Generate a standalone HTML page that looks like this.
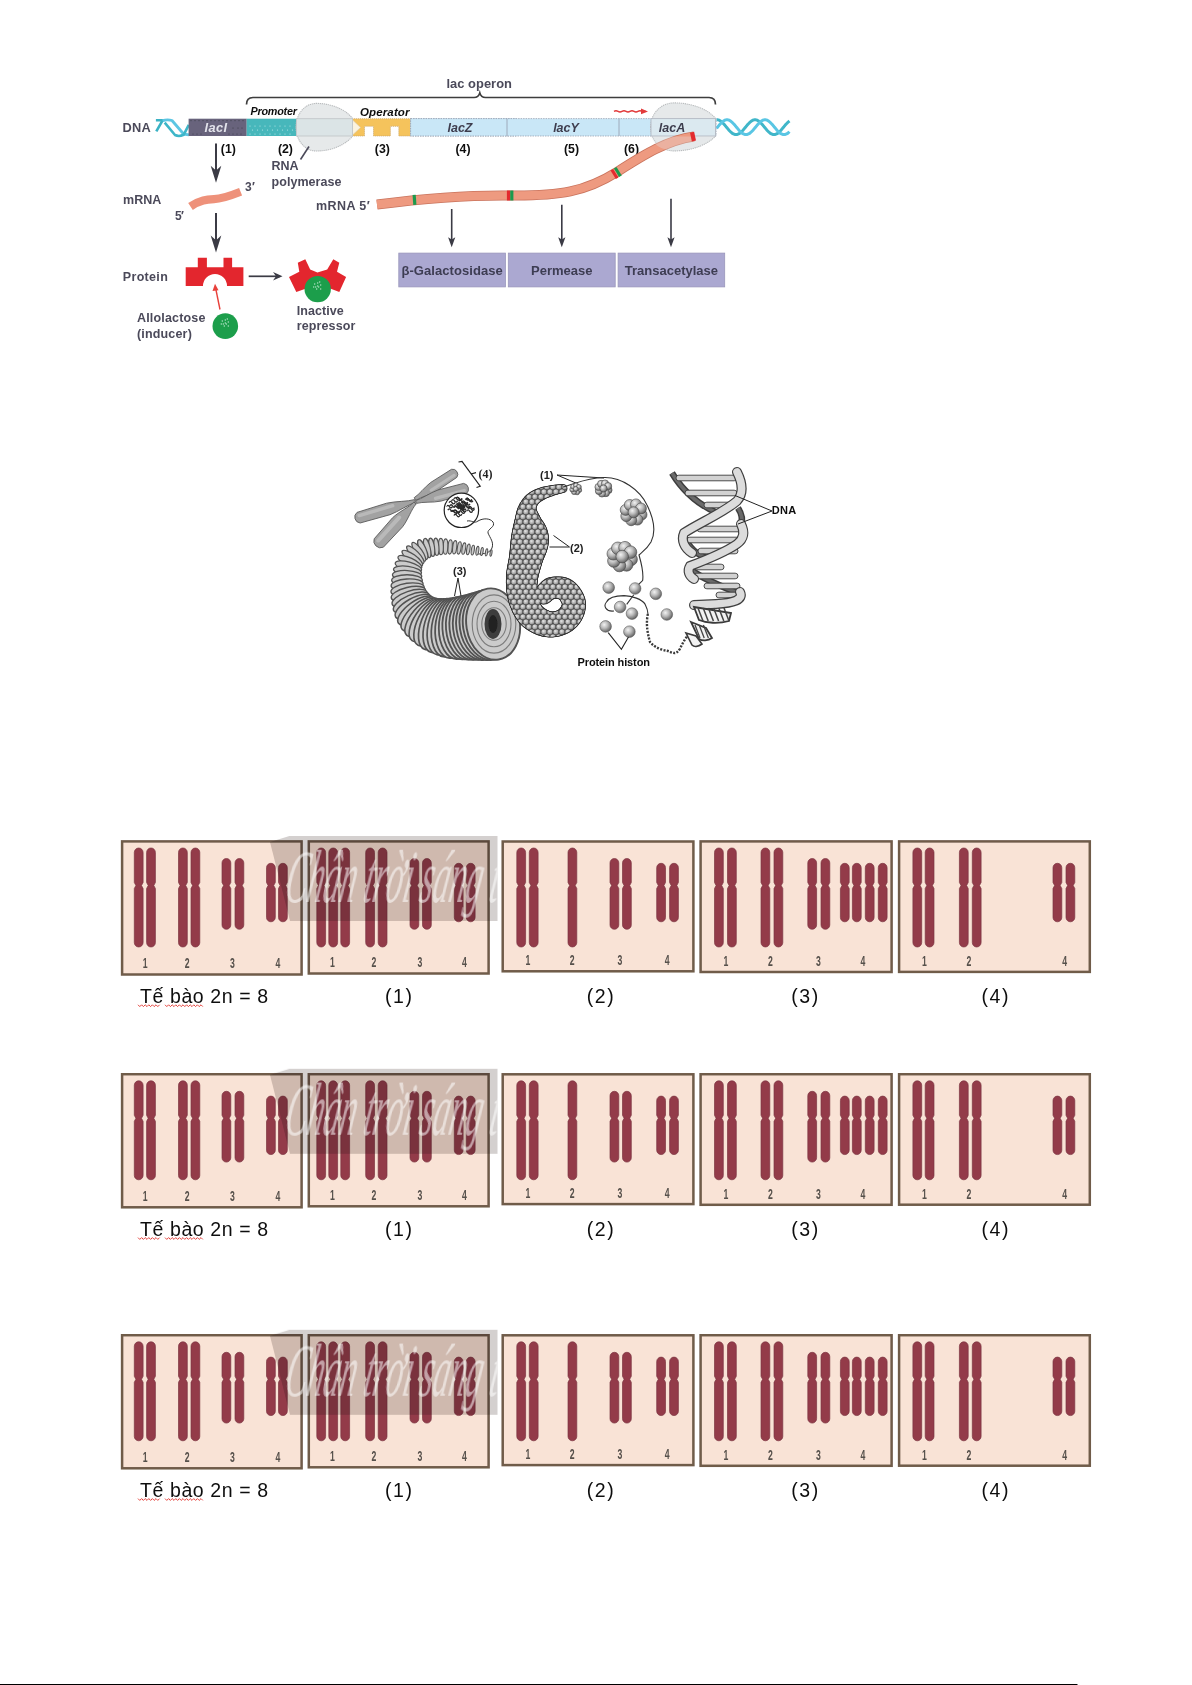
<!DOCTYPE html>
<html><head><meta charset="utf-8"><style>
html,body{margin:0;padding:0;background:#fff;}
body{width:1192px;height:1685px;overflow:hidden;position:relative;}
svg{position:absolute;left:0;top:0;font-family:"Liberation Sans",sans-serif;}
</style></head><body>
<svg width="1192" height="1685" viewBox="0 0 1192 1685">
<rect x="0" y="0" width="1192" height="1685" fill="#fff"/>
<defs><filter id="soft" x="-5%" y="-5%" width="110%" height="110%"><feGaussianBlur stdDeviation="0.45"/></filter><filter id="soft2" x="-2%" y="-10%" width="104%" height="120%"><feGaussianBlur stdDeviation="0.35"/></filter></defs>
<g filter="url(#soft)"><path d="M246.5,104.5 Q246.5,97.5 253,97.5 L474,97.5 Q478.5,97.5 479.8,93 Q481,97.5 485.5,97.5 L709,97.5 Q715.5,97.5 715.5,104.5" fill="none" stroke="#3c3c3c" stroke-width="1.7"/>
<text x="479.2" y="88.2" font-size="12.9" font-weight="bold" font-style="normal" fill="#4b4a5a" text-anchor="middle" textLength="65.5">lac operon</text>
<path d="M156.3,131.3 L162.6,120.3 L155.9,120.3" fill="none" stroke="#3ab2c4" stroke-width="2.6" stroke-linejoin="round"/>
<path d="M162.6,120.6 C166,119.5 169,119.5 172,120.5 L183.6,134 L189,134.8" fill="none" stroke="#5cc6e3" stroke-width="2.8" stroke-linejoin="round"/>
<path d="M164.7,122.7 L175,135 C178,136.5 181,136 183.6,134.8 L188.8,124.8" fill="none" stroke="#3eb6c8" stroke-width="2.6" stroke-linejoin="round"/>
<polyline points="716.5,119.8 717.0,119.8 717.5,119.8 718.0,119.9 718.5,120.0 719.0,120.2 719.5,120.4 720.0,120.7 720.5,121.0 721.0,121.4 721.5,121.8 722.0,122.2 722.5,122.7 723.0,123.2 723.5,123.7 724.0,124.2 724.5,124.8 725.0,125.4 725.5,126.0 726.0,126.6 726.5,127.2 727.0,127.8 727.5,128.4 728.0,129.0 728.5,129.6 729.0,130.2 729.5,130.7 730.0,131.2 730.5,131.7 731.0,132.2 731.5,132.6 732.0,133.0 732.5,133.4 733.0,133.7 733.5,134.0 734.0,134.2 734.5,134.4 735.0,134.5 735.5,134.6 736.0,134.6 736.5,134.6 737.0,134.5 737.5,134.4 738.0,134.2 738.5,134.0 739.0,133.7 739.5,133.4 740.0,133.0 740.5,132.6 741.0,132.2 741.5,131.7 742.0,131.2 742.5,130.7 743.0,130.2 743.5,129.6 744.0,129.0 744.5,128.4 745.0,127.8 745.5,127.2 746.0,126.6 746.5,126.0 747.0,125.4 747.5,124.8 748.0,124.2 748.5,123.7 749.0,123.2 749.5,122.7 750.0,122.2 750.5,121.8 751.0,121.4 751.5,121.0 752.0,120.7 752.5,120.4 753.0,120.2 753.5,120.0 754.0,119.9 754.5,119.8 755.0,119.8 755.5,119.8 756.0,119.9 756.5,120.0 757.0,120.2 757.5,120.4 758.0,120.7 758.5,121.0 759.0,121.4 759.5,121.8 760.0,122.2 760.5,122.7 761.0,123.2 761.5,123.7 762.0,124.2 762.5,124.8 763.0,125.4 763.5,126.0 764.0,126.6 764.5,127.2 765.0,127.8 765.5,128.4 766.0,129.0 766.5,129.6 767.0,130.2 767.5,130.7 768.0,131.2 768.5,131.7 769.0,132.2 769.5,132.6 770.0,133.0 770.5,133.4 771.0,133.7 771.5,134.0 772.0,134.2 772.5,134.4 773.0,134.5 773.5,134.6 774.0,134.6 774.5,134.6 775.0,134.5 775.5,134.4 776.0,134.2 776.5,134.0 777.0,133.7 777.5,133.4 778.0,133.0 778.5,132.6 779.0,132.2 779.5,131.7 780.0,131.2 780.5,130.7 781.0,130.2 781.5,129.6 782.0,129.0 782.5,128.4 783.0,127.8 783.5,127.2 784.0,126.6 784.5,126.0 785.0,125.4 785.5,124.8 786.0,124.2 786.5,123.7 787.0,123.2 787.5,122.7 788.0,122.2 788.5,121.8 789.0,121.4 789.5,121.0" fill="none" stroke="#3fb6c9" stroke-width="3.0"/>
<polyline points="716.5,128.4 717.0,127.8 717.5,127.2 718.0,126.6 718.5,126.0 719.0,125.4 719.5,124.8 720.0,124.2 720.5,123.7 721.0,123.2 721.5,122.7 722.0,122.2 722.5,121.8 723.0,121.4 723.5,121.0 724.0,120.7 724.5,120.4 725.0,120.2 725.5,120.0 726.0,119.9 726.5,119.8 727.0,119.8 727.5,119.8 728.0,119.9 728.5,120.0 729.0,120.2 729.5,120.4 730.0,120.7 730.5,121.0 731.0,121.4 731.5,121.8 732.0,122.2 732.5,122.7 733.0,123.2 733.5,123.7 734.0,124.2 734.5,124.8 735.0,125.4 735.5,126.0 736.0,126.6 736.5,127.2 737.0,127.8 737.5,128.4 738.0,129.0 738.5,129.6 739.0,130.2 739.5,130.7 740.0,131.2 740.5,131.7 741.0,132.2 741.5,132.6 742.0,133.0 742.5,133.4 743.0,133.7 743.5,134.0 744.0,134.2 744.5,134.4 745.0,134.5 745.5,134.6 746.0,134.6 746.5,134.6 747.0,134.5 747.5,134.4 748.0,134.2 748.5,134.0 749.0,133.7 749.5,133.4 750.0,133.0 750.5,132.6 751.0,132.2 751.5,131.7 752.0,131.2 752.5,130.7 753.0,130.2 753.5,129.6 754.0,129.0 754.5,128.4 755.0,127.8 755.5,127.2 756.0,126.6 756.5,126.0 757.0,125.4 757.5,124.8 758.0,124.2 758.5,123.7 759.0,123.2 759.5,122.7 760.0,122.2 760.5,121.8 761.0,121.4 761.5,121.0 762.0,120.7 762.5,120.4 763.0,120.2 763.5,120.0 764.0,119.9 764.5,119.8 765.0,119.8 765.5,119.8 766.0,119.9 766.5,120.0 767.0,120.2 767.5,120.4 768.0,120.7 768.5,121.0 769.0,121.4 769.5,121.8 770.0,122.2 770.5,122.7 771.0,123.2 771.5,123.7 772.0,124.2 772.5,124.8 773.0,125.4 773.5,126.0 774.0,126.6 774.5,127.2 775.0,127.8 775.5,128.4 776.0,129.0 776.5,129.6 777.0,130.2 777.5,130.7 778.0,131.2 778.5,131.7 779.0,132.2 779.5,132.6 780.0,133.0 780.5,133.4 781.0,133.7 781.5,134.0 782.0,134.2 782.5,134.4 783.0,134.5 783.5,134.6 784.0,134.6 784.5,134.6 785.0,134.5 785.5,134.4 786.0,134.2 786.5,134.0 787.0,133.7 787.5,133.4 788.0,133.0 788.5,132.6 789.0,132.2 789.5,131.7" fill="none" stroke="#5ac6e4" stroke-width="3.0"/>
<rect x="188.6" y="118.7" width="58.1" height="17.3" fill="#67647b"/>
<text x="215.8" y="131.5" font-size="12.8" font-weight="bold" font-style="italic" fill="#e4e4ec" text-anchor="middle" textLength="22.5">lacI</text>
<rect x="246.7" y="118.7" width="50" height="17.3" fill="#46b7bb"/>
<circle cx="191" cy="120.6" r="0.55" fill="#3c3a4c"/><circle cx="195" cy="120.6" r="0.55" fill="#3c3a4c"/><circle cx="199" cy="120.6" r="0.55" fill="#3c3a4c"/><circle cx="203" cy="120.6" r="0.55" fill="#3c3a4c"/><circle cx="207" cy="120.6" r="0.55" fill="#3c3a4c"/><circle cx="211" cy="120.6" r="0.55" fill="#3c3a4c"/><circle cx="215" cy="120.6" r="0.55" fill="#3c3a4c"/><circle cx="219" cy="120.6" r="0.55" fill="#3c3a4c"/><circle cx="223" cy="120.6" r="0.55" fill="#3c3a4c"/><circle cx="227" cy="120.6" r="0.55" fill="#3c3a4c"/><circle cx="231" cy="120.6" r="0.55" fill="#3c3a4c"/><circle cx="235" cy="120.6" r="0.55" fill="#3c3a4c"/><circle cx="239" cy="120.6" r="0.55" fill="#3c3a4c"/><circle cx="243" cy="120.6" r="0.55" fill="#3c3a4c"/><circle cx="193" cy="134" r="0.55" fill="#3c3a4c"/><circle cx="197" cy="134" r="0.55" fill="#3c3a4c"/><circle cx="201" cy="134" r="0.55" fill="#3c3a4c"/><circle cx="229" cy="134" r="0.55" fill="#3c3a4c"/><circle cx="233" cy="134" r="0.55" fill="#3c3a4c"/><circle cx="237" cy="134" r="0.55" fill="#3c3a4c"/><circle cx="241" cy="134" r="0.55" fill="#3c3a4c"/><circle cx="233" cy="128" r="0.6" fill="#3c3a4c"/><circle cx="238" cy="128" r="0.6" fill="#3c3a4c"/><circle cx="242" cy="128" r="0.6" fill="#3c3a4c"/><circle cx="250" cy="126" r="0.6" fill="#bfe6e8"/><circle cx="255" cy="126" r="0.6" fill="#bfe6e8"/><circle cx="260" cy="126" r="0.6" fill="#bfe6e8"/><circle cx="265" cy="126" r="0.6" fill="#bfe6e8"/><circle cx="270" cy="126" r="0.6" fill="#bfe6e8"/><circle cx="275" cy="126" r="0.6" fill="#bfe6e8"/><circle cx="280" cy="126" r="0.6" fill="#bfe6e8"/><circle cx="285" cy="126" r="0.6" fill="#bfe6e8"/><circle cx="290" cy="126" r="0.6" fill="#bfe6e8"/><circle cx="252.5" cy="130" r="0.6" fill="#bfe6e8"/><circle cx="257.5" cy="130" r="0.6" fill="#bfe6e8"/><circle cx="262.5" cy="130" r="0.6" fill="#bfe6e8"/><circle cx="267.5" cy="130" r="0.6" fill="#bfe6e8"/><circle cx="272.5" cy="130" r="0.6" fill="#bfe6e8"/><circle cx="277.5" cy="130" r="0.6" fill="#bfe6e8"/><circle cx="282.5" cy="130" r="0.6" fill="#bfe6e8"/><circle cx="287.5" cy="130" r="0.6" fill="#bfe6e8"/><circle cx="292.5" cy="130" r="0.6" fill="#bfe6e8"/><circle cx="250" cy="134" r="0.6" fill="#bfe6e8"/><circle cx="255" cy="134" r="0.6" fill="#bfe6e8"/><circle cx="260" cy="134" r="0.6" fill="#bfe6e8"/><circle cx="265" cy="134" r="0.6" fill="#bfe6e8"/><circle cx="270" cy="134" r="0.6" fill="#bfe6e8"/><circle cx="275" cy="134" r="0.6" fill="#bfe6e8"/><circle cx="280" cy="134" r="0.6" fill="#bfe6e8"/><circle cx="285" cy="134" r="0.6" fill="#bfe6e8"/><circle cx="290" cy="134" r="0.6" fill="#bfe6e8"/>
<path d="M352,118.7 H410.6 V136 H398.8 V126.3 H390.4 V136 H373.5 V126.3 H364.5 V136 H352 Z" fill="#f5c35c" stroke="#c6a46a" stroke-width="0.7" stroke-dasharray="1.2,0.8"/>
<path d="M352.5,120 L360.5,127.5 L352.5,135 Z" fill="#fbf3df" stroke="#d8cfb8" stroke-width="0.6"/>
<rect x="410.6" y="118.6" width="105.5" height="17.4" fill="#c9e7f7" stroke="#9aa3b3" stroke-width="0.8" stroke-dasharray="1.5,1"/>
<rect x="410.6" y="118.6" width="305.5" height="17.4" fill="#c9e7f7" stroke="#9aa3b3" stroke-width="0.8" stroke-dasharray="1.5,1"/>
<line x1="507" y1="118.6" x2="507" y2="136" stroke="#9aa3b3" stroke-width="0.9"/>
<line x1="619" y1="118.6" x2="619" y2="136" stroke="#9aa3b3" stroke-width="0.9"/>
<path d="M296,127.2 C296,113.9 304.9,103.4 316.3,103.4 C335.0,103.4 348.0,112.0 352.5,118.5 L352.5,136 C348.0,142.4 335.0,151 316.3,151 C304.9,151 296,140.5 296,127.2 Z" fill="#e6e9ea" stroke="#b9bcbe" stroke-width="1.1" stroke-dasharray="1.3,0.7"/>
<rect x="296.5" y="118.7" width="56" height="17.3" fill="#dbe4e6" stroke="#c3c7c9" stroke-width="0.9"/>
<text x="460" y="132" font-size="12.5" font-weight="bold" font-style="italic" fill="#3e3d4e" text-anchor="middle" >lacZ</text>
<text x="566" y="132" font-size="12.5" font-weight="bold" font-style="italic" fill="#3e3d4e" text-anchor="middle" >lacY</text>
<path d="M650.6,127.2 C650.6,113.6 660.9,102.9 674.0,102.9 C695.4,102.9 710.3,111.5 715.5,118.5 L715.5,136 C710.3,142.3 695.4,150.9 674.0,150.9 C660.9,150.9 650.6,140.5 650.6,127.2 Z" fill="#e6e9ea" stroke="#b9bcbe" stroke-width="1.1" stroke-dasharray="1.3,0.7"/>
<rect x="651" y="118.6" width="64.5" height="17.4" fill="#dbe9f0" stroke="#b3b9c3" stroke-width="0.9"/>
<text x="672" y="132" font-size="12.5" font-weight="bold" font-style="italic" fill="#3e3d4e" text-anchor="middle" >lacA</text>
<path d="M614,111.4 q2,-1.2 4,0 t4,0 t4,0 t4,0 t4,0 t4,0 t4,0 L646,111.4" fill="none" stroke="#e23b3b" stroke-width="1.4"/>
<path d="M641,108.5 L648,111.4 L641,114.3 Z" fill="#e23b3b"/>
<text x="250.5" y="115.2" font-size="10.8" font-weight="bold" font-style="italic" fill="#111" text-anchor="start" textLength="46.5">Promoter</text>
<text x="360" y="116" font-size="11.5" font-weight="bold" font-style="italic" fill="#111" text-anchor="start" textLength="49.5">Operator</text>
<text x="228.3" y="153.3" font-size="12.3" font-weight="bold" font-style="normal" fill="#111" text-anchor="middle" >(1)</text>
<text x="285.4" y="153.3" font-size="12.3" font-weight="bold" font-style="normal" fill="#111" text-anchor="middle" >(2)</text>
<text x="382.3" y="153.3" font-size="12.3" font-weight="bold" font-style="normal" fill="#111" text-anchor="middle" >(3)</text>
<text x="463" y="153.3" font-size="12.3" font-weight="bold" font-style="normal" fill="#111" text-anchor="middle" >(4)</text>
<text x="571.5" y="153.3" font-size="12.3" font-weight="bold" font-style="normal" fill="#111" text-anchor="middle" >(5)</text>
<text x="631.5" y="153.3" font-size="12.3" font-weight="bold" font-style="normal" fill="#111" text-anchor="middle" >(6)</text>
<text x="122.6" y="131.8" font-size="12.8" font-weight="bold" font-style="normal" fill="#4b4a5a" text-anchor="start" textLength="28.2">DNA</text>
<line x1="216" y1="143.6" x2="216" y2="172.60000000000002" stroke="#3a3a44" stroke-width="2.0"/>
<path d="M210.7,165.8 L216,182.8 L221.3,165.8 L216,170.56 Z" fill="#3a3a44"/>
<line x1="216" y1="213" x2="216" y2="242.4" stroke="#3a3a44" stroke-width="2.0"/>
<path d="M210.7,235.6 L216,252.6 L221.3,235.6 L216,240.35999999999999 Z" fill="#3a3a44"/>
<line x1="300.5" y1="159.5" x2="309" y2="146.5" stroke="#4b4a5a" stroke-width="1.6"/>
<text x="271.5" y="169.6" font-size="12.5" font-weight="bold" font-style="normal" fill="#4b4a5a" text-anchor="start" >RNA</text>
<text x="271.5" y="185.5" font-size="12.5" font-weight="bold" font-style="normal" fill="#4b4a5a" text-anchor="start" textLength="70">polymerase</text>
<path d="M190.5,206.5 C200,200 207,199.5 214,199.2 C222,199 230,196 240.6,191.8" fill="none" stroke="#ee917a" stroke-width="8.2" stroke-linecap="butt"/>
<text x="245" y="191" font-size="12" font-weight="bold" font-style="normal" fill="#4b4a5a" text-anchor="start" textLength="10">3′</text>
<text x="175" y="219.5" font-size="12" font-weight="bold" font-style="normal" fill="#4b4a5a" text-anchor="start" textLength="9">5′</text>
<text x="123" y="204" font-size="12.5" font-weight="bold" font-style="normal" fill="#4b4a5a" text-anchor="start" textLength="38.4">mRNA</text>
<path d="M185.7,267.2 H197.8 V257.8 H206.9 V267.2 H223.5 V257.8 H232.1 V267.2 H243.4 V286 H227 A12,12 0 0 0 203,286 H185.7 Z" fill="#e3272d"/>
<text x="122.8" y="281" font-size="12.5" font-weight="bold" font-style="normal" fill="#4b4a5a" text-anchor="start" textLength="45">Protein</text>
<line x1="248.7" y1="276.3" x2="280" y2="276.3" stroke="#3a3a44" stroke-width="1.7"/>
<path d="M273,272 L282.5,276.3 L273,280.6 L276,276.3 Z" fill="#3a3a44"/>
<path d="M289,277 L299.3,271.7 L297.8,262.7 L305.3,259.3 L310.2,269.4 L317.4,272.5 L327.2,269.4 L333.3,259.3 L339.3,262.7 L337,271.7 L346.1,277 L339.3,292.1 L329.5,288.3 L306.9,288.3 L296.3,292.1 Z" fill="#e3272d"/>
<circle cx="317.7" cy="289.1" r="13.2" fill="#1c9e4c"/>
<text x="296.7" y="315" font-size="12.5" font-weight="bold" font-style="normal" fill="#4b4a5a" text-anchor="start" textLength="47">Inactive</text>
<text x="296.7" y="330" font-size="12.5" font-weight="bold" font-style="normal" fill="#4b4a5a" text-anchor="start" textLength="58.7">repressor</text>
<line x1="220" y1="309.5" x2="215.8" y2="289" stroke="#e8403a" stroke-width="1.4"/>
<path d="M212.5,291 L215,283.8 L218.5,290.2 Z" fill="#e8403a"/>
<circle cx="225.3" cy="326.1" r="12.8" fill="#1c9e4c"/>
<circle cx="222.3" cy="321" r="0.7" fill="#b9e3c8"/>
<circle cx="225.3" cy="320" r="0.7" fill="#b9e3c8"/>
<circle cx="228.3" cy="322" r="0.7" fill="#b9e3c8"/>
<circle cx="223.3" cy="324" r="0.7" fill="#b9e3c8"/>
<circle cx="226.3" cy="324" r="0.7" fill="#b9e3c8"/>
<circle cx="228.3" cy="326" r="0.7" fill="#b9e3c8"/>
<circle cx="224.3" cy="326" r="0.7" fill="#b9e3c8"/>
<circle cx="225.3" cy="323" r="0.7" fill="#b9e3c8"/>
<circle cx="227.3" cy="319" r="0.7" fill="#b9e3c8"/>
<circle cx="221.3" cy="324" r="0.7" fill="#b9e3c8"/>
<circle cx="314.7" cy="284" r="0.7" fill="#b9e3c8"/>
<circle cx="317.7" cy="283" r="0.7" fill="#b9e3c8"/>
<circle cx="320.7" cy="285" r="0.7" fill="#b9e3c8"/>
<circle cx="315.7" cy="287" r="0.7" fill="#b9e3c8"/>
<circle cx="318.7" cy="287" r="0.7" fill="#b9e3c8"/>
<circle cx="320.7" cy="289" r="0.7" fill="#b9e3c8"/>
<circle cx="316.7" cy="289" r="0.7" fill="#b9e3c8"/>
<circle cx="317.7" cy="286" r="0.7" fill="#b9e3c8"/>
<circle cx="319.7" cy="282" r="0.7" fill="#b9e3c8"/>
<circle cx="313.7" cy="287" r="0.7" fill="#b9e3c8"/>
<text x="137" y="322" font-size="12.5" font-weight="bold" font-style="normal" fill="#4b4a5a" text-anchor="start" textLength="68.4">Allolactose</text>
<text x="137" y="337.5" font-size="12.5" font-weight="bold" font-style="normal" fill="#4b4a5a" text-anchor="start" textLength="54.8">(inducer)</text>
<text x="316" y="209.5" font-size="12.5" font-weight="bold" font-style="normal" fill="#4b4a5a" text-anchor="start" textLength="53.7">mRNA 5′</text>
<path d="M377,204.5 C420,199 470,195 510,195.5 C560,196 585,192 617,172 C645,154 668,140 694,136.5" fill="none" stroke="#c9735c" stroke-width="10" />
<path d="M377,204.5 C420,199 470,195 510,195.5 C560,196 585,192 617,172 C645,154 668,140 694,136.5" fill="none" stroke="#ee9a80" stroke-width="8.4" />
<rect x="412.9" y="194.8" width="3.2" height="10" fill="#1e9a4e" transform="rotate(-4 414.5 199.8)"/>
<rect x="506.9" y="190.5" width="3.2" height="10" fill="#e32b2f" transform="rotate(0 508.5 195.5)"/>
<rect x="510.2" y="190.5" width="3.2" height="10" fill="#1e9a4e" transform="rotate(0 511.8 195.5)"/>
<rect x="612.9" y="169.0" width="3.2" height="10" fill="#e32b2f" transform="rotate(-32 614.5 174)"/>
<rect x="616.1999999999999" y="167.0" width="3.2" height="10" fill="#1e9a4e" transform="rotate(-32 617.8 172)"/>
<path d="M651,136.5 C653,144 661,150.5 673,150.5 C690,150.5 700,143 715,136.5 Z" fill="#e6e9ea" fill-opacity="0.3"/>
<rect x="690.9" y="132.1" width="4.2" height="9" fill="#e32b2f" transform="rotate(-12 693 136.6)"/>
<line x1="451.7" y1="209" x2="451.7" y2="241.3" stroke="#3a3a44" stroke-width="1.6"/>
<path d="M448.09999999999997,237.3 L451.7,247.3 L455.3,237.3 L451.7,239.5 Z" fill="#3a3a44"/>
<line x1="561.8" y1="204.7" x2="561.8" y2="241.3" stroke="#3a3a44" stroke-width="1.6"/>
<path d="M558.1999999999999,237.3 L561.8,247.3 L565.4,237.3 L561.8,239.5 Z" fill="#3a3a44"/>
<line x1="671" y1="198.8" x2="671" y2="241.3" stroke="#3a3a44" stroke-width="1.6"/>
<path d="M667.4,237.3 L671,247.3 L674.6,237.3 L671,239.5 Z" fill="#3a3a44"/>
<rect x="398.8" y="253.1" width="106.6" height="33.8" fill="#aba8d1" stroke="#9996bb" stroke-width="0.8"/>
<text x="452.1" y="275.2" font-size="13" font-weight="bold" font-style="normal" fill="#3d3c52" text-anchor="middle" textLength="101.3">β-Galactosidase</text>
<rect x="508.3" y="253.1" width="106.9" height="33.8" fill="#aba8d1" stroke="#9996bb" stroke-width="0.8"/>
<text x="561.75" y="275.2" font-size="13" font-weight="bold" font-style="normal" fill="#3d3c52" text-anchor="middle" textLength="61.6">Permease</text>
<rect x="618.1" y="253.1" width="106.6" height="33.8" fill="#aba8d1" stroke="#9996bb" stroke-width="0.8"/>
<text x="671.4000000000001" y="275.2" font-size="13" font-weight="bold" font-style="normal" fill="#3d3c52" text-anchor="middle" textLength="93.3">Transacetylase</text></g>
<g filter="url(#soft)"><defs>
<radialGradient id="ball" cx="0.38" cy="0.35" r="0.7">
  <stop offset="0" stop-color="#f2f2f2"/><stop offset="0.45" stop-color="#b9b9b9"/><stop offset="1" stop-color="#5a5a5a"/>
</radialGradient>
<radialGradient id="bead" cx="0.4" cy="0.35" r="0.75">
  <stop offset="0" stop-color="#e6e6e6"/><stop offset="0.55" stop-color="#a9a9a9"/><stop offset="1" stop-color="#454545"/>
</radialGradient>
<linearGradient id="armg" x1="0" y1="0" x2="0" y2="1">
  <stop offset="0" stop-color="#c9c9c9"/><stop offset="0.5" stop-color="#9c9c9c"/><stop offset="1" stop-color="#6e6e6e"/>
</linearGradient>
<pattern id="beads" x="0" y="0" width="6.4" height="6" patternUnits="userSpaceOnUse">
  <rect width="6.4" height="6" fill="#6a6a6a"/>
  <circle cx="3.2" cy="3" r="2.9" fill="url(#bead)"/>
</pattern>
<clipPath id="magclip"><circle cx="461.4" cy="510.3" r="15.5"/></clipPath><clipPath id="fibclip"><circle cx="563.0" cy="488.5" r="3.5"/><circle cx="561.5" cy="488.7" r="3.6"/><circle cx="560.0" cy="489.0" r="3.8"/><circle cx="558.6" cy="489.2" r="3.9"/><circle cx="557.1" cy="489.5" r="4.0"/><circle cx="555.6" cy="489.7" r="4.2"/><circle cx="554.1" cy="490.0" r="4.3"/><circle cx="552.7" cy="490.3" r="4.4"/><circle cx="551.2" cy="490.7" r="4.6"/><circle cx="549.8" cy="491.1" r="4.7"/><circle cx="548.3" cy="491.5" r="4.8"/><circle cx="546.9" cy="491.9" r="5.0"/><circle cx="545.4" cy="492.3" r="5.1"/><circle cx="544.0" cy="492.8" r="5.2"/><circle cx="542.6" cy="493.3" r="5.3"/><circle cx="541.2" cy="493.9" r="5.5"/><circle cx="539.9" cy="494.5" r="5.6"/><circle cx="538.5" cy="495.2" r="5.7"/><circle cx="537.2" cy="495.9" r="5.8"/><circle cx="535.9" cy="496.7" r="6.0"/><circle cx="534.7" cy="497.6" r="6.1"/><circle cx="533.5" cy="498.5" r="6.2"/><circle cx="532.4" cy="499.5" r="6.4"/><circle cx="531.4" cy="500.7" r="6.6"/><circle cx="530.5" cy="501.8" r="6.8"/><circle cx="529.7" cy="503.1" r="7.0"/><circle cx="528.9" cy="504.4" r="7.3"/><circle cx="528.3" cy="505.7" r="7.5"/><circle cx="527.7" cy="507.1" r="7.8"/><circle cx="527.3" cy="508.6" r="8.1"/><circle cx="527.0" cy="510.0" r="8.5"/><circle cx="526.8" cy="511.5" r="8.9"/><circle cx="526.8" cy="513.0" r="9.4"/><circle cx="526.9" cy="514.5" r="9.9"/><circle cx="527.0" cy="516.0" r="10.3"/><circle cx="527.2" cy="517.5" r="10.8"/><circle cx="527.4" cy="519.0" r="11.3"/><circle cx="527.6" cy="520.5" r="11.8"/><circle cx="527.8" cy="522.0" r="12.3"/><circle cx="527.9" cy="523.5" r="12.8"/><circle cx="528.1" cy="524.9" r="13.3"/><circle cx="528.4" cy="526.4" r="13.9"/><circle cx="528.6" cy="527.9" r="14.5"/><circle cx="528.9" cy="529.4" r="15.1"/><circle cx="529.2" cy="530.8" r="15.8"/><circle cx="529.5" cy="532.3" r="16.3"/><circle cx="529.8" cy="533.8" r="16.9"/><circle cx="529.9" cy="535.3" r="17.3"/><circle cx="530.0" cy="536.8" r="17.7"/><circle cx="530.0" cy="538.3" r="17.9"/><circle cx="529.9" cy="539.8" r="18.0"/><circle cx="529.8" cy="541.3" r="18.1"/><circle cx="529.5" cy="542.8" r="18.0"/><circle cx="529.3" cy="544.2" r="17.9"/><circle cx="529.0" cy="545.7" r="17.7"/><circle cx="528.6" cy="547.2" r="17.5"/><circle cx="528.3" cy="548.6" r="17.3"/><circle cx="527.9" cy="550.1" r="17.1"/><circle cx="527.5" cy="551.5" r="16.8"/><circle cx="527.2" cy="553.0" r="16.6"/><circle cx="526.8" cy="554.4" r="16.4"/><circle cx="526.5" cy="555.9" r="16.2"/><circle cx="526.1" cy="557.4" r="16.1"/><circle cx="525.8" cy="558.8" r="15.9"/><circle cx="525.5" cy="560.3" r="15.8"/><circle cx="525.2" cy="561.7" r="15.7"/><circle cx="524.8" cy="563.2" r="15.7"/><circle cx="524.5" cy="564.7" r="15.6"/><circle cx="524.1" cy="566.1" r="15.5"/><circle cx="523.8" cy="567.6" r="15.5"/><circle cx="523.4" cy="569.0" r="15.4"/><circle cx="523.1" cy="570.5" r="15.3"/><circle cx="522.8" cy="572.0" r="15.3"/><circle cx="522.6" cy="573.5" r="15.2"/><circle cx="522.3" cy="574.9" r="15.1"/><circle cx="522.1" cy="576.4" r="15.1"/><circle cx="522.0" cy="577.9" r="15.0"/><circle cx="521.9" cy="579.4" r="14.9"/><circle cx="521.8" cy="580.9" r="14.9"/><circle cx="521.7" cy="582.4" r="14.8"/><circle cx="521.7" cy="583.9" r="14.7"/><circle cx="521.7" cy="585.4" r="14.6"/><circle cx="521.7" cy="586.9" r="14.6"/><circle cx="521.7" cy="588.4" r="14.5"/><circle cx="521.8" cy="589.9" r="14.4"/><circle cx="521.9" cy="591.4" r="14.3"/><circle cx="522.0" cy="592.9" r="14.3"/><circle cx="522.3" cy="594.4" r="14.2"/><circle cx="522.5" cy="595.9" r="14.1"/><circle cx="522.8" cy="597.3" r="14.0"/><circle cx="523.2" cy="598.8" r="14.0"/><circle cx="523.6" cy="600.2" r="13.9"/><circle cx="524.1" cy="601.7" r="13.8"/><circle cx="524.6" cy="603.1" r="13.7"/><circle cx="525.1" cy="604.5" r="13.7"/><circle cx="525.6" cy="605.9" r="13.6"/><circle cx="526.2" cy="607.2" r="13.5"/><circle cx="526.9" cy="608.6" r="13.5"/><circle cx="527.6" cy="609.9" r="13.4"/><circle cx="528.3" cy="611.2" r="13.3"/><circle cx="529.1" cy="612.5" r="13.2"/><circle cx="530.0" cy="613.7" r="13.2"/><circle cx="530.9" cy="614.9" r="13.1"/><circle cx="532.0" cy="616.0" r="13.0"/><circle cx="533.1" cy="617.0" r="12.9"/><circle cx="534.2" cy="617.9" r="12.8"/><circle cx="535.5" cy="618.8" r="12.8"/><circle cx="536.7" cy="619.6" r="12.7"/><circle cx="538.0" cy="620.4" r="12.6"/><circle cx="539.3" cy="621.1" r="12.5"/><circle cx="540.7" cy="621.8" r="12.5"/><circle cx="542.0" cy="622.4" r="12.4"/><circle cx="543.4" cy="622.9" r="12.3"/><circle cx="544.8" cy="623.4" r="12.2"/><circle cx="546.3" cy="623.8" r="12.2"/><circle cx="547.8" cy="624.2" r="12.1"/><circle cx="549.2" cy="624.4" r="12.0"/><circle cx="550.7" cy="624.5" r="12.0"/><circle cx="552.2" cy="624.5" r="11.9"/><circle cx="553.7" cy="624.4" r="11.9"/><circle cx="555.2" cy="624.2" r="11.8"/><circle cx="556.7" cy="623.9" r="11.8"/><circle cx="558.1" cy="623.5" r="11.7"/><circle cx="559.6" cy="623.1" r="11.7"/><circle cx="561.0" cy="622.6" r="11.7"/><circle cx="562.3" cy="621.9" r="11.6"/><circle cx="563.7" cy="621.3" r="11.6"/><circle cx="564.9" cy="620.5" r="11.6"/><circle cx="566.2" cy="619.6" r="11.5"/><circle cx="567.3" cy="618.7" r="11.5"/><circle cx="568.4" cy="617.6" r="11.4"/><circle cx="569.4" cy="616.5" r="11.4"/><circle cx="570.2" cy="615.3" r="11.4"/><circle cx="571.0" cy="614.0" r="11.3"/><circle cx="571.7" cy="612.7" r="11.3"/><circle cx="572.4" cy="611.3" r="11.2"/><circle cx="572.9" cy="609.9" r="11.2"/><circle cx="573.4" cy="608.5" r="11.1"/><circle cx="573.7" cy="607.0" r="11.1"/><circle cx="573.9" cy="605.5" r="11.1"/><circle cx="574.0" cy="604.0" r="11.0"/><circle cx="573.8" cy="602.6" r="11.0"/><circle cx="573.5" cy="601.1" r="10.9"/><circle cx="573.0" cy="599.7" r="10.9"/><circle cx="572.4" cy="598.3" r="10.8"/><circle cx="571.7" cy="597.0" r="10.8"/><circle cx="571.0" cy="595.7" r="10.7"/><circle cx="570.2" cy="594.4" r="10.7"/><circle cx="569.3" cy="593.2" r="10.6"/><circle cx="568.3" cy="592.1" r="10.6"/><circle cx="567.2" cy="591.0" r="10.6"/><circle cx="566.1" cy="590.1" r="10.5"/><circle cx="564.8" cy="589.3" r="10.5"/><circle cx="563.4" cy="588.7" r="10.4"/><circle cx="562.0" cy="588.2" r="10.4"/><circle cx="560.5" cy="587.9" r="10.3"/><circle cx="559.0" cy="587.7" r="10.3"/><circle cx="557.5" cy="587.6" r="10.2"/><circle cx="556.0" cy="587.6" r="10.2"/><circle cx="554.6" cy="587.6" r="10.1"/><circle cx="553.1" cy="587.8" r="10.1"/><circle cx="551.6" cy="588.1" r="10.0"/><circle cx="550.2" cy="588.7" r="9.9"/><circle cx="548.9" cy="589.5" r="9.7"/><circle cx="547.7" cy="590.4" r="9.6"/><circle cx="546.6" cy="591.4" r="9.5"/><circle cx="545.6" cy="592.4" r="9.3"/><circle cx="544.5" cy="593.5" r="9.2"/><circle cx="543.5" cy="594.6" r="9.1"/></clipPath></defs>
<path d="M415.8,500.3 C421.0,496.8 429.8,495.0 436.6,491.1 L456.8,477.4 A5.2,5.2 0 0 0 451.5,469.3 L430.8,482.4 C424.6,487.1 419.4,494.3 414.2,497.7 Z" fill="#a2a2a2" stroke="#5a5a5a" stroke-width="0.9"/>
<line x1="431.1" y1="490.3" x2="454.1" y2="475.3" stroke="#c4c4c4" stroke-width="2.9" stroke-linecap="round" opacity="0.7"/>
<path d="M416.4,503.4 C422.9,501.6 432.6,502.8 441.0,501.1 L466.4,493.6 A5.8,5.8 0 0 0 463.6,483.4 L437.9,490.0 C429.9,492.8 422.1,498.8 415.6,500.6 Z" fill="#a2a2a2" stroke="#5a5a5a" stroke-width="0.9"/>
<line x1="435.5" y1="498.4" x2="464.3" y2="490.5" stroke="#c4c4c4" stroke-width="3.2" stroke-linecap="round" opacity="0.7"/>
<path d="M414.6,499.6 C407.1,501.8 396.1,501.0 386.6,503.2 L357.0,512.4 A6.0,6.0 0 0 0 360.1,523.0 L390.0,514.7 C399.1,511.3 408.0,504.6 415.4,502.4 Z" fill="#a2a2a2" stroke="#5a5a5a" stroke-width="0.9"/>
<line x1="392.7" y1="505.7" x2="359.2" y2="515.6" stroke="#c4c4c4" stroke-width="3.4" stroke-linecap="round" opacity="0.7"/>
<path d="M413.9,502.0 C409.0,507.4 399.1,511.5 392.5,517.8 L374.2,538.8 A6.8,6.8 0 0 0 383.4,547.2 L402.5,526.9 C408.1,519.7 411.2,509.4 416.1,504.0 Z" fill="#a2a2a2" stroke="#5a5a5a" stroke-width="0.9"/>
<line x1="399.3" y1="517.4" x2="378.2" y2="540.6" stroke="#c4c4c4" stroke-width="3.8" stroke-linecap="round" opacity="0.7"/>
<circle cx="461.4" cy="510.3" r="17.2" fill="#fff" stroke="#222" stroke-width="1.2"/>
<g clip-path="url(#magclip)"><path d="M458.9,512.2 q1.5,-2.5 3,0 t3,0" fill="none" stroke="#2a2a2a" stroke-width="1.3"/><path d="M453.4,511.2 q1.5,-2.5 3,0 t3,0" fill="none" stroke="#2a2a2a" stroke-width="1.3"/><path d="M457.8,506.6 q1.5,-2.5 3,0 t3,0" fill="none" stroke="#2a2a2a" stroke-width="1.3"/><path d="M468.4,507.7 q1.5,-2.5 3,0 t3,0" fill="none" stroke="#2a2a2a" stroke-width="1.3"/><path d="M458.2,509.2 q1.5,-2.5 3,0 t3,0" fill="none" stroke="#2a2a2a" stroke-width="1.3"/><path d="M464.0,506.9 q1.5,-2.5 3,0 t3,0" fill="none" stroke="#2a2a2a" stroke-width="1.3"/><path d="M461.4,503.1 q1.5,-2.5 3,0 t3,0" fill="none" stroke="#2a2a2a" stroke-width="1.3"/><path d="M457.2,505.9 q1.5,-2.5 3,0 t3,0" fill="none" stroke="#2a2a2a" stroke-width="1.3"/><path d="M451.5,500.8 q1.5,-2.5 3,0 t3,0" fill="none" stroke="#2a2a2a" stroke-width="1.3"/><path d="M449.6,506.0 q1.5,-2.5 3,0 t3,0" fill="none" stroke="#2a2a2a" stroke-width="1.3"/><path d="M458.0,506.5 q1.5,-2.5 3,0 t3,0" fill="none" stroke="#2a2a2a" stroke-width="1.3"/><path d="M458.8,501.3 q1.5,-2.5 3,0 t3,0" fill="none" stroke="#2a2a2a" stroke-width="1.3"/><path d="M458.3,507.3 q1.5,-2.5 3,0 t3,0" fill="none" stroke="#2a2a2a" stroke-width="1.3"/><path d="M462.2,503.6 q1.5,-2.5 3,0 t3,0" fill="none" stroke="#2a2a2a" stroke-width="1.3"/><path d="M456.3,498.7 q1.5,-2.5 3,0 t3,0" fill="none" stroke="#2a2a2a" stroke-width="1.3"/><path d="M455.9,498.4 q1.5,-2.5 3,0 t3,0" fill="none" stroke="#2a2a2a" stroke-width="1.3"/><path d="M450.8,511.7 q1.5,-2.5 3,0 t3,0" fill="none" stroke="#2a2a2a" stroke-width="1.3"/><path d="M447.8,510.1 q1.5,-2.5 3,0 t3,0" fill="none" stroke="#2a2a2a" stroke-width="1.3"/><path d="M459.2,506.4 q1.5,-2.5 3,0 t3,0" fill="none" stroke="#2a2a2a" stroke-width="1.3"/><path d="M460.1,508.6 q1.5,-2.5 3,0 t3,0" fill="none" stroke="#2a2a2a" stroke-width="1.3"/><path d="M463.5,506.1 q1.5,-2.5 3,0 t3,0" fill="none" stroke="#2a2a2a" stroke-width="1.3"/><path d="M455.9,504.9 q1.5,-2.5 3,0 t3,0" fill="none" stroke="#2a2a2a" stroke-width="1.3"/><path d="M453.8,506.8 q1.5,-2.5 3,0 t3,0" fill="none" stroke="#2a2a2a" stroke-width="1.3"/><path d="M454.2,511.5 q1.5,-2.5 3,0 t3,0" fill="none" stroke="#2a2a2a" stroke-width="1.3"/><path d="M449.0,502.6 q1.5,-2.5 3,0 t3,0" fill="none" stroke="#2a2a2a" stroke-width="1.3"/><path d="M453.8,498.9 q1.5,-2.5 3,0 t3,0" fill="none" stroke="#2a2a2a" stroke-width="1.3"/><path d="M465.8,499.5 q1.5,-2.5 3,0 t3,0" fill="none" stroke="#2a2a2a" stroke-width="1.3"/><path d="M457.5,505.6 q1.5,-2.5 3,0 t3,0" fill="none" stroke="#2a2a2a" stroke-width="1.3"/><path d="M465.8,499.9 q1.5,-2.5 3,0 t3,0" fill="none" stroke="#2a2a2a" stroke-width="1.3"/><path d="M464.0,503.9 q1.5,-2.5 3,0 t3,0" fill="none" stroke="#2a2a2a" stroke-width="1.3"/><path d="M457.8,505.0 q1.5,-2.5 3,0 t3,0" fill="none" stroke="#2a2a2a" stroke-width="1.3"/><path d="M461.8,502.2 q1.5,-2.5 3,0 t3,0" fill="none" stroke="#2a2a2a" stroke-width="1.3"/><path d="M458.2,507.6 q1.5,-2.5 3,0 t3,0" fill="none" stroke="#2a2a2a" stroke-width="1.3"/><path d="M465.6,499.5 q1.5,-2.5 3,0 t3,0" fill="none" stroke="#2a2a2a" stroke-width="1.3"/><path d="M466.6,511.1 q1.5,-2.5 3,0 t3,0" fill="none" stroke="#2a2a2a" stroke-width="1.3"/><path d="M456.9,507.8 q1.5,-2.5 3,0 t3,0" fill="none" stroke="#2a2a2a" stroke-width="1.3"/><path d="M455.9,514.1 q1.5,-2.5 3,0 t3,0" fill="none" stroke="#2a2a2a" stroke-width="1.3"/><path d="M458.8,506.7 q1.5,-2.5 3,0 t3,0" fill="none" stroke="#2a2a2a" stroke-width="1.3"/><path d="M458.0,506.7 q1.5,-2.5 3,0 t3,0" fill="none" stroke="#2a2a2a" stroke-width="1.3"/><path d="M457.6,503.9 q1.5,-2.5 3,0 t3,0" fill="none" stroke="#2a2a2a" stroke-width="1.3"/><path d="M467.0,500.6 q1.5,-2.5 3,0 t3,0" fill="none" stroke="#2a2a2a" stroke-width="1.3"/><path d="M446.4,506.7 q1.5,-2.5 3,0 t3,0" fill="none" stroke="#2a2a2a" stroke-width="1.3"/><path d="M458.1,507.7 q1.5,-2.5 3,0 t3,0" fill="none" stroke="#2a2a2a" stroke-width="1.3"/><path d="M458.1,506.8 q1.5,-2.5 3,0 t3,0" fill="none" stroke="#2a2a2a" stroke-width="1.3"/><path d="M460.0,510.7 q1.5,-2.5 3,0 t3,0" fill="none" stroke="#2a2a2a" stroke-width="1.3"/><path d="M457.0,506.0 q1.5,-2.5 3,0 t3,0" fill="none" stroke="#2a2a2a" stroke-width="1.3"/><path d="M468.4,509.2 q1.5,-2.5 3,0 t3,0" fill="none" stroke="#2a2a2a" stroke-width="1.3"/><path d="M453.9,515.5 q1.5,-2.5 3,0 t3,0" fill="none" stroke="#2a2a2a" stroke-width="1.3"/></g>
<path d="M467,521 C472,520 474,524 478,521 C483,518 490,518 493,522 C496,527 487,529 488,533 C490,538 494,542 492,548 C490,553 484,554 478,554" fill="none" stroke="#333" stroke-width="1"/>
<path d="M458.5,462 L462,461.5 L480.2,486.2 L476.5,487.5 M471,474 L476,472.6" fill="none" stroke="#222" stroke-width="1.2"/>
<text x="478.5" y="477.5" font-family="Liberation Serif" font-weight="bold" font-size="12" fill="#222">(4)</text>
<g><ellipse cx="491.0" cy="553.0" rx="0.96" ry="3.20" transform="rotate(-171.0 491.0 553.0)" fill="#cbcbcb" stroke="#525252" stroke-width="0.99"/><ellipse cx="486.5" cy="552.3" rx="1.09" ry="3.63" transform="rotate(-171.0 486.5 552.3)" fill="#cbcbcb" stroke="#525252" stroke-width="1.00"/><ellipse cx="481.9" cy="551.6" rx="1.22" ry="4.05" transform="rotate(-171.0 481.9 551.6)" fill="#cbcbcb" stroke="#525252" stroke-width="1.01"/><ellipse cx="477.4" cy="550.8" rx="1.35" ry="4.48" transform="rotate(-171.1 477.4 550.8)" fill="#cbcbcb" stroke="#525252" stroke-width="1.03"/><ellipse cx="472.8" cy="550.1" rx="1.48" ry="4.92" transform="rotate(-171.0 472.8 550.1)" fill="#cbcbcb" stroke="#525252" stroke-width="1.04"/><ellipse cx="468.3" cy="549.4" rx="1.61" ry="5.36" transform="rotate(-170.6 468.3 549.4)" fill="#cbcbcb" stroke="#525252" stroke-width="1.05"/><ellipse cx="463.8" cy="548.6" rx="1.74" ry="5.81" transform="rotate(-170.5 463.8 548.6)" fill="#cbcbcb" stroke="#525252" stroke-width="1.06"/><ellipse cx="459.2" cy="547.9" rx="1.88" ry="6.26" transform="rotate(-171.5 459.2 547.9)" fill="#cbcbcb" stroke="#525252" stroke-width="1.08"/><ellipse cx="454.7" cy="547.3" rx="2.02" ry="6.72" transform="rotate(-173.6 454.7 547.3)" fill="#cbcbcb" stroke="#525252" stroke-width="1.09"/><ellipse cx="450.1" cy="546.9" rx="2.16" ry="7.20" transform="rotate(-176.0 450.1 546.9)" fill="#cbcbcb" stroke="#525252" stroke-width="1.10"/><ellipse cx="445.5" cy="546.6" rx="2.31" ry="7.69" transform="rotate(-178.2 445.5 546.6)" fill="#cbcbcb" stroke="#525252" stroke-width="1.12"/><ellipse cx="440.9" cy="546.6" rx="2.46" ry="8.19" transform="rotate(179.1 440.9 546.6)" fill="#cbcbcb" stroke="#525252" stroke-width="1.13"/><ellipse cx="436.3" cy="546.8" rx="2.62" ry="8.72" transform="rotate(175.4 436.3 546.8)" fill="#cbcbcb" stroke="#525252" stroke-width="1.14"/><ellipse cx="431.7" cy="547.3" rx="2.79" ry="9.29" transform="rotate(171.4 431.7 547.3)" fill="#cbcbcb" stroke="#525252" stroke-width="1.16"/><ellipse cx="427.2" cy="548.1" rx="2.96" ry="9.90" transform="rotate(165.9 427.2 548.1)" fill="#cbcbcb" stroke="#525252" stroke-width="1.18"/><ellipse cx="422.8" cy="549.5" rx="3.15" ry="10.55" transform="rotate(156.5 422.8 549.5)" fill="#cbcbcb" stroke="#525252" stroke-width="1.20"/><ellipse cx="418.8" cy="551.8" rx="3.37" ry="11.20" transform="rotate(145.4 418.8 551.8)" fill="#cbcbcb" stroke="#525252" stroke-width="1.21"/><ellipse cx="415.3" cy="554.7" rx="3.62" ry="11.82" transform="rotate(135.5 415.3 554.7)" fill="#cbcbcb" stroke="#525252" stroke-width="1.23"/><ellipse cx="412.3" cy="558.2" rx="3.88" ry="12.42" transform="rotate(125.9 412.3 558.2)" fill="#cbcbcb" stroke="#525252" stroke-width="1.25"/><ellipse cx="409.9" cy="562.2" rx="4.17" ry="13.02" transform="rotate(115.2 409.9 562.2)" fill="#cbcbcb" stroke="#525252" stroke-width="1.26"/><ellipse cx="408.4" cy="566.5" rx="4.46" ry="13.58" transform="rotate(105.1 408.4 566.5)" fill="#cbcbcb" stroke="#525252" stroke-width="1.28"/><ellipse cx="407.5" cy="571.0" rx="4.75" ry="14.10" transform="rotate(98.1 407.5 571.0)" fill="#cbcbcb" stroke="#525252" stroke-width="1.29"/><ellipse cx="407.1" cy="575.6" rx="5.07" ry="14.66" transform="rotate(93.5 407.1 575.6)" fill="#cbcbcb" stroke="#525252" stroke-width="1.31"/><ellipse cx="407.0" cy="580.2" rx="5.42" ry="15.32" transform="rotate(89.9 407.0 580.2)" fill="#cbcbcb" stroke="#525252" stroke-width="1.33"/><ellipse cx="407.1" cy="584.8" rx="5.78" ry="16.02" transform="rotate(86.1 407.1 584.8)" fill="#cbcbcb" stroke="#525252" stroke-width="1.35"/><ellipse cx="407.6" cy="589.4" rx="6.17" ry="16.77" transform="rotate(81.8 407.6 589.4)" fill="#cbcbcb" stroke="#525252" stroke-width="1.37"/><ellipse cx="408.4" cy="593.9" rx="6.61" ry="17.58" transform="rotate(76.6 408.4 593.9)" fill="#cbcbcb" stroke="#525252" stroke-width="1.39"/><ellipse cx="409.7" cy="598.3" rx="7.11" ry="18.49" transform="rotate(71.3 409.7 598.3)" fill="#cbcbcb" stroke="#525252" stroke-width="1.42"/><ellipse cx="411.4" cy="602.6" rx="7.67" ry="19.48" transform="rotate(66.2 411.4 602.6)" fill="#cbcbcb" stroke="#525252" stroke-width="1.45"/><ellipse cx="413.4" cy="606.7" rx="8.28" ry="20.52" transform="rotate(60.5 413.4 606.7)" fill="#cbcbcb" stroke="#525252" stroke-width="1.47"/><ellipse cx="415.9" cy="610.6" rx="8.96" ry="21.58" transform="rotate(53.9 415.9 610.6)" fill="#cbcbcb" stroke="#525252" stroke-width="1.50"/><ellipse cx="418.8" cy="614.1" rx="9.70" ry="22.64" transform="rotate(47.0 418.8 614.1)" fill="#cbcbcb" stroke="#525252" stroke-width="1.53"/><ellipse cx="422.2" cy="617.3" rx="10.50" ry="23.68" transform="rotate(40.5 422.2 617.3)" fill="#cbcbcb" stroke="#525252" stroke-width="1.56"/><ellipse cx="425.8" cy="620.1" rx="11.35" ry="24.71" transform="rotate(33.9 425.8 620.1)" fill="#cbcbcb" stroke="#525252" stroke-width="1.59"/><ellipse cx="429.8" cy="622.4" rx="12.22" ry="25.71" transform="rotate(27.2 429.8 622.4)" fill="#cbcbcb" stroke="#525252" stroke-width="1.62"/><ellipse cx="434.0" cy="624.3" rx="13.10" ry="26.68" transform="rotate(21.0 434.0 624.3)" fill="#cbcbcb" stroke="#525252" stroke-width="1.65"/><ellipse cx="438.4" cy="625.7" rx="13.96" ry="27.62" transform="rotate(15.9 438.4 625.7)" fill="#cbcbcb" stroke="#525252" stroke-width="1.67"/><ellipse cx="442.8" cy="626.8" rx="14.84" ry="28.52" transform="rotate(11.8 442.8 626.8)" fill="#cbcbcb" stroke="#525252" stroke-width="1.70"/><ellipse cx="447.4" cy="627.6" rx="15.74" ry="29.37" transform="rotate(8.1 447.4 627.6)" fill="#cbcbcb" stroke="#525252" stroke-width="1.72"/><ellipse cx="451.9" cy="628.1" rx="16.70" ry="30.15" transform="rotate(4.1 451.9 628.1)" fill="#cbcbcb" stroke="#525252" stroke-width="1.74"/><ellipse cx="456.5" cy="628.2" rx="17.69" ry="30.84" transform="rotate(-0.2 456.5 628.2)" fill="#cbcbcb" stroke="#525252" stroke-width="1.76"/><ellipse cx="461.1" cy="628.0" rx="18.70" ry="31.46" transform="rotate(-3.2 461.1 628.0)" fill="#cbcbcb" stroke="#525252" stroke-width="1.78"/><ellipse cx="465.7" cy="627.7" rx="19.73" ry="32.04" transform="rotate(-4.9 465.7 627.7)" fill="#cbcbcb" stroke="#525252" stroke-width="1.80"/><ellipse cx="470.3" cy="627.3" rx="20.80" ry="32.63" transform="rotate(-5.6 470.3 627.3)" fill="#cbcbcb" stroke="#525252" stroke-width="1.81"/><ellipse cx="474.9" cy="626.8" rx="21.91" ry="33.26" transform="rotate(-6.4 474.9 626.8)" fill="#cbcbcb" stroke="#525252" stroke-width="1.83"/><ellipse cx="479.4" cy="626.2" rx="23.07" ry="33.91" transform="rotate(-7.7 479.4 626.2)" fill="#cbcbcb" stroke="#525252" stroke-width="1.85"/><ellipse cx="484.0" cy="625.6" rx="24.26" ry="34.56" transform="rotate(-8.6 484.0 625.6)" fill="#cbcbcb" stroke="#525252" stroke-width="1.87"/><ellipse cx="488.5" cy="624.9" rx="25.49" ry="35.21" transform="rotate(-9.0 488.5 624.9)" fill="#cbcbcb" stroke="#525252" stroke-width="1.89"/><ellipse cx="493.1" cy="624.1" rx="26.74" ry="35.87" transform="rotate(-9.0 493.1 624.1)" fill="#cbcbcb" stroke="#525252" stroke-width="1.90"/></g>
<ellipse cx="494" cy="624" rx="21.8" ry="29.1" fill="none" stroke="#5a5a5a" stroke-width="1.1" opacity="0.7"/>
<ellipse cx="494" cy="624" rx="17.0" ry="22.7" fill="none" stroke="#5a5a5a" stroke-width="1.1" opacity="0.7"/>
<ellipse cx="494" cy="624" rx="12.2" ry="16.3" fill="none" stroke="#5a5a5a" stroke-width="1.1" opacity="0.7"/>
<ellipse cx="493" cy="624" rx="8.5" ry="15" fill="#3d3d3d"/>
<ellipse cx="493" cy="624" rx="4.5" ry="9" fill="#202020"/>
<text x="453" y="575" font-family="Liberation Sans" font-weight="bold" font-size="11" fill="#222">(3)</text>
<path d="M454.5,596 L458,578 L461,596" fill="none" stroke="#222" stroke-width="1"/>
<g fill="#333"><circle cx="563.0" cy="488.5" r="4.5"/><circle cx="561.5" cy="488.7" r="4.6"/><circle cx="560.0" cy="489.0" r="4.8"/><circle cx="558.6" cy="489.2" r="4.9"/><circle cx="557.1" cy="489.5" r="5.0"/><circle cx="555.6" cy="489.7" r="5.2"/><circle cx="554.1" cy="490.0" r="5.3"/><circle cx="552.7" cy="490.3" r="5.4"/><circle cx="551.2" cy="490.7" r="5.6"/><circle cx="549.8" cy="491.1" r="5.7"/><circle cx="548.3" cy="491.5" r="5.8"/><circle cx="546.9" cy="491.9" r="6.0"/><circle cx="545.4" cy="492.3" r="6.1"/><circle cx="544.0" cy="492.8" r="6.2"/><circle cx="542.6" cy="493.3" r="6.3"/><circle cx="541.2" cy="493.9" r="6.5"/><circle cx="539.9" cy="494.5" r="6.6"/><circle cx="538.5" cy="495.2" r="6.7"/><circle cx="537.2" cy="495.9" r="6.8"/><circle cx="535.9" cy="496.7" r="7.0"/><circle cx="534.7" cy="497.6" r="7.1"/><circle cx="533.5" cy="498.5" r="7.2"/><circle cx="532.4" cy="499.5" r="7.4"/><circle cx="531.4" cy="500.7" r="7.6"/><circle cx="530.5" cy="501.8" r="7.8"/><circle cx="529.7" cy="503.1" r="8.0"/><circle cx="528.9" cy="504.4" r="8.3"/><circle cx="528.3" cy="505.7" r="8.5"/><circle cx="527.7" cy="507.1" r="8.8"/><circle cx="527.3" cy="508.6" r="9.1"/><circle cx="527.0" cy="510.0" r="9.5"/><circle cx="526.8" cy="511.5" r="9.9"/><circle cx="526.8" cy="513.0" r="10.4"/><circle cx="526.9" cy="514.5" r="10.9"/><circle cx="527.0" cy="516.0" r="11.3"/><circle cx="527.2" cy="517.5" r="11.8"/><circle cx="527.4" cy="519.0" r="12.3"/><circle cx="527.6" cy="520.5" r="12.8"/><circle cx="527.8" cy="522.0" r="13.3"/><circle cx="527.9" cy="523.5" r="13.8"/><circle cx="528.1" cy="524.9" r="14.3"/><circle cx="528.4" cy="526.4" r="14.9"/><circle cx="528.6" cy="527.9" r="15.5"/><circle cx="528.9" cy="529.4" r="16.1"/><circle cx="529.2" cy="530.8" r="16.8"/><circle cx="529.5" cy="532.3" r="17.3"/><circle cx="529.8" cy="533.8" r="17.9"/><circle cx="529.9" cy="535.3" r="18.3"/><circle cx="530.0" cy="536.8" r="18.7"/><circle cx="530.0" cy="538.3" r="18.9"/><circle cx="529.9" cy="539.8" r="19.0"/><circle cx="529.8" cy="541.3" r="19.1"/><circle cx="529.5" cy="542.8" r="19.0"/><circle cx="529.3" cy="544.2" r="18.9"/><circle cx="529.0" cy="545.7" r="18.7"/><circle cx="528.6" cy="547.2" r="18.5"/><circle cx="528.3" cy="548.6" r="18.3"/><circle cx="527.9" cy="550.1" r="18.1"/><circle cx="527.5" cy="551.5" r="17.8"/><circle cx="527.2" cy="553.0" r="17.6"/><circle cx="526.8" cy="554.4" r="17.4"/><circle cx="526.5" cy="555.9" r="17.2"/><circle cx="526.1" cy="557.4" r="17.1"/><circle cx="525.8" cy="558.8" r="16.9"/><circle cx="525.5" cy="560.3" r="16.8"/><circle cx="525.2" cy="561.7" r="16.7"/><circle cx="524.8" cy="563.2" r="16.7"/><circle cx="524.5" cy="564.7" r="16.6"/><circle cx="524.1" cy="566.1" r="16.5"/><circle cx="523.8" cy="567.6" r="16.5"/><circle cx="523.4" cy="569.0" r="16.4"/><circle cx="523.1" cy="570.5" r="16.3"/><circle cx="522.8" cy="572.0" r="16.3"/><circle cx="522.6" cy="573.5" r="16.2"/><circle cx="522.3" cy="574.9" r="16.1"/><circle cx="522.1" cy="576.4" r="16.1"/><circle cx="522.0" cy="577.9" r="16.0"/><circle cx="521.9" cy="579.4" r="15.9"/><circle cx="521.8" cy="580.9" r="15.9"/><circle cx="521.7" cy="582.4" r="15.8"/><circle cx="521.7" cy="583.9" r="15.7"/><circle cx="521.7" cy="585.4" r="15.6"/><circle cx="521.7" cy="586.9" r="15.6"/><circle cx="521.7" cy="588.4" r="15.5"/><circle cx="521.8" cy="589.9" r="15.4"/><circle cx="521.9" cy="591.4" r="15.3"/><circle cx="522.0" cy="592.9" r="15.3"/><circle cx="522.3" cy="594.4" r="15.2"/><circle cx="522.5" cy="595.9" r="15.1"/><circle cx="522.8" cy="597.3" r="15.0"/><circle cx="523.2" cy="598.8" r="15.0"/><circle cx="523.6" cy="600.2" r="14.9"/><circle cx="524.1" cy="601.7" r="14.8"/><circle cx="524.6" cy="603.1" r="14.7"/><circle cx="525.1" cy="604.5" r="14.7"/><circle cx="525.6" cy="605.9" r="14.6"/><circle cx="526.2" cy="607.2" r="14.5"/><circle cx="526.9" cy="608.6" r="14.5"/><circle cx="527.6" cy="609.9" r="14.4"/><circle cx="528.3" cy="611.2" r="14.3"/><circle cx="529.1" cy="612.5" r="14.2"/><circle cx="530.0" cy="613.7" r="14.2"/><circle cx="530.9" cy="614.9" r="14.1"/><circle cx="532.0" cy="616.0" r="14.0"/><circle cx="533.1" cy="617.0" r="13.9"/><circle cx="534.2" cy="617.9" r="13.8"/><circle cx="535.5" cy="618.8" r="13.8"/><circle cx="536.7" cy="619.6" r="13.7"/><circle cx="538.0" cy="620.4" r="13.6"/><circle cx="539.3" cy="621.1" r="13.5"/><circle cx="540.7" cy="621.8" r="13.5"/><circle cx="542.0" cy="622.4" r="13.4"/><circle cx="543.4" cy="622.9" r="13.3"/><circle cx="544.8" cy="623.4" r="13.2"/><circle cx="546.3" cy="623.8" r="13.2"/><circle cx="547.8" cy="624.2" r="13.1"/><circle cx="549.2" cy="624.4" r="13.0"/><circle cx="550.7" cy="624.5" r="13.0"/><circle cx="552.2" cy="624.5" r="12.9"/><circle cx="553.7" cy="624.4" r="12.9"/><circle cx="555.2" cy="624.2" r="12.8"/><circle cx="556.7" cy="623.9" r="12.8"/><circle cx="558.1" cy="623.5" r="12.7"/><circle cx="559.6" cy="623.1" r="12.7"/><circle cx="561.0" cy="622.6" r="12.7"/><circle cx="562.3" cy="621.9" r="12.6"/><circle cx="563.7" cy="621.3" r="12.6"/><circle cx="564.9" cy="620.5" r="12.6"/><circle cx="566.2" cy="619.6" r="12.5"/><circle cx="567.3" cy="618.7" r="12.5"/><circle cx="568.4" cy="617.6" r="12.4"/><circle cx="569.4" cy="616.5" r="12.4"/><circle cx="570.2" cy="615.3" r="12.4"/><circle cx="571.0" cy="614.0" r="12.3"/><circle cx="571.7" cy="612.7" r="12.3"/><circle cx="572.4" cy="611.3" r="12.2"/><circle cx="572.9" cy="609.9" r="12.2"/><circle cx="573.4" cy="608.5" r="12.1"/><circle cx="573.7" cy="607.0" r="12.1"/><circle cx="573.9" cy="605.5" r="12.1"/><circle cx="574.0" cy="604.0" r="12.0"/><circle cx="573.8" cy="602.6" r="12.0"/><circle cx="573.5" cy="601.1" r="11.9"/><circle cx="573.0" cy="599.7" r="11.9"/><circle cx="572.4" cy="598.3" r="11.8"/><circle cx="571.7" cy="597.0" r="11.8"/><circle cx="571.0" cy="595.7" r="11.7"/><circle cx="570.2" cy="594.4" r="11.7"/><circle cx="569.3" cy="593.2" r="11.6"/><circle cx="568.3" cy="592.1" r="11.6"/><circle cx="567.2" cy="591.0" r="11.6"/><circle cx="566.1" cy="590.1" r="11.5"/><circle cx="564.8" cy="589.3" r="11.5"/><circle cx="563.4" cy="588.7" r="11.4"/><circle cx="562.0" cy="588.2" r="11.4"/><circle cx="560.5" cy="587.9" r="11.3"/><circle cx="559.0" cy="587.7" r="11.3"/><circle cx="557.5" cy="587.6" r="11.2"/><circle cx="556.0" cy="587.6" r="11.2"/><circle cx="554.6" cy="587.6" r="11.1"/><circle cx="553.1" cy="587.8" r="11.1"/><circle cx="551.6" cy="588.1" r="11.0"/><circle cx="550.2" cy="588.7" r="10.9"/><circle cx="548.9" cy="589.5" r="10.7"/><circle cx="547.7" cy="590.4" r="10.6"/><circle cx="546.6" cy="591.4" r="10.5"/><circle cx="545.6" cy="592.4" r="10.3"/><circle cx="544.5" cy="593.5" r="10.2"/><circle cx="543.5" cy="594.6" r="10.1"/></g>
<g clip-path="url(#fibclip)"><rect x="495" y="478" width="100" height="170" fill="#7a7a7a"/><g fill="url(#bead)" stroke="#3a3a3a" stroke-width="0.5"><circle cx="496" cy="482" r="3"/><circle cx="502" cy="482" r="3"/><circle cx="508" cy="482" r="3"/><circle cx="514" cy="482" r="3"/><circle cx="520" cy="482" r="3"/><circle cx="526" cy="482" r="3"/><circle cx="532" cy="482" r="3"/><circle cx="538" cy="482" r="3"/><circle cx="544" cy="482" r="3"/><circle cx="550" cy="482" r="3"/><circle cx="556" cy="482" r="3"/><circle cx="562" cy="482" r="3"/><circle cx="568" cy="482" r="3"/><circle cx="574" cy="482" r="3"/><circle cx="580" cy="482" r="3"/><circle cx="586" cy="482" r="3"/><circle cx="592" cy="482" r="3"/><circle cx="499" cy="487" r="3"/><circle cx="505" cy="487" r="3"/><circle cx="511" cy="487" r="3"/><circle cx="517" cy="487" r="3"/><circle cx="523" cy="487" r="3"/><circle cx="529" cy="487" r="3"/><circle cx="535" cy="487" r="3"/><circle cx="541" cy="487" r="3"/><circle cx="547" cy="487" r="3"/><circle cx="553" cy="487" r="3"/><circle cx="559" cy="487" r="3"/><circle cx="565" cy="487" r="3"/><circle cx="571" cy="487" r="3"/><circle cx="577" cy="487" r="3"/><circle cx="583" cy="487" r="3"/><circle cx="589" cy="487" r="3"/><circle cx="595" cy="487" r="3"/><circle cx="496" cy="492" r="3"/><circle cx="502" cy="492" r="3"/><circle cx="508" cy="492" r="3"/><circle cx="514" cy="492" r="3"/><circle cx="520" cy="492" r="3"/><circle cx="526" cy="492" r="3"/><circle cx="532" cy="492" r="3"/><circle cx="538" cy="492" r="3"/><circle cx="544" cy="492" r="3"/><circle cx="550" cy="492" r="3"/><circle cx="556" cy="492" r="3"/><circle cx="562" cy="492" r="3"/><circle cx="568" cy="492" r="3"/><circle cx="574" cy="492" r="3"/><circle cx="580" cy="492" r="3"/><circle cx="586" cy="492" r="3"/><circle cx="592" cy="492" r="3"/><circle cx="499" cy="497" r="3"/><circle cx="505" cy="497" r="3"/><circle cx="511" cy="497" r="3"/><circle cx="517" cy="497" r="3"/><circle cx="523" cy="497" r="3"/><circle cx="529" cy="497" r="3"/><circle cx="535" cy="497" r="3"/><circle cx="541" cy="497" r="3"/><circle cx="547" cy="497" r="3"/><circle cx="553" cy="497" r="3"/><circle cx="559" cy="497" r="3"/><circle cx="565" cy="497" r="3"/><circle cx="571" cy="497" r="3"/><circle cx="577" cy="497" r="3"/><circle cx="583" cy="497" r="3"/><circle cx="589" cy="497" r="3"/><circle cx="595" cy="497" r="3"/><circle cx="496" cy="502" r="3"/><circle cx="502" cy="502" r="3"/><circle cx="508" cy="502" r="3"/><circle cx="514" cy="502" r="3"/><circle cx="520" cy="502" r="3"/><circle cx="526" cy="502" r="3"/><circle cx="532" cy="502" r="3"/><circle cx="538" cy="502" r="3"/><circle cx="544" cy="502" r="3"/><circle cx="550" cy="502" r="3"/><circle cx="556" cy="502" r="3"/><circle cx="562" cy="502" r="3"/><circle cx="568" cy="502" r="3"/><circle cx="574" cy="502" r="3"/><circle cx="580" cy="502" r="3"/><circle cx="586" cy="502" r="3"/><circle cx="592" cy="502" r="3"/><circle cx="499" cy="507" r="3"/><circle cx="505" cy="507" r="3"/><circle cx="511" cy="507" r="3"/><circle cx="517" cy="507" r="3"/><circle cx="523" cy="507" r="3"/><circle cx="529" cy="507" r="3"/><circle cx="535" cy="507" r="3"/><circle cx="541" cy="507" r="3"/><circle cx="547" cy="507" r="3"/><circle cx="553" cy="507" r="3"/><circle cx="559" cy="507" r="3"/><circle cx="565" cy="507" r="3"/><circle cx="571" cy="507" r="3"/><circle cx="577" cy="507" r="3"/><circle cx="583" cy="507" r="3"/><circle cx="589" cy="507" r="3"/><circle cx="595" cy="507" r="3"/><circle cx="496" cy="512" r="3"/><circle cx="502" cy="512" r="3"/><circle cx="508" cy="512" r="3"/><circle cx="514" cy="512" r="3"/><circle cx="520" cy="512" r="3"/><circle cx="526" cy="512" r="3"/><circle cx="532" cy="512" r="3"/><circle cx="538" cy="512" r="3"/><circle cx="544" cy="512" r="3"/><circle cx="550" cy="512" r="3"/><circle cx="556" cy="512" r="3"/><circle cx="562" cy="512" r="3"/><circle cx="568" cy="512" r="3"/><circle cx="574" cy="512" r="3"/><circle cx="580" cy="512" r="3"/><circle cx="586" cy="512" r="3"/><circle cx="592" cy="512" r="3"/><circle cx="499" cy="517" r="3"/><circle cx="505" cy="517" r="3"/><circle cx="511" cy="517" r="3"/><circle cx="517" cy="517" r="3"/><circle cx="523" cy="517" r="3"/><circle cx="529" cy="517" r="3"/><circle cx="535" cy="517" r="3"/><circle cx="541" cy="517" r="3"/><circle cx="547" cy="517" r="3"/><circle cx="553" cy="517" r="3"/><circle cx="559" cy="517" r="3"/><circle cx="565" cy="517" r="3"/><circle cx="571" cy="517" r="3"/><circle cx="577" cy="517" r="3"/><circle cx="583" cy="517" r="3"/><circle cx="589" cy="517" r="3"/><circle cx="595" cy="517" r="3"/><circle cx="496" cy="522" r="3"/><circle cx="502" cy="522" r="3"/><circle cx="508" cy="522" r="3"/><circle cx="514" cy="522" r="3"/><circle cx="520" cy="522" r="3"/><circle cx="526" cy="522" r="3"/><circle cx="532" cy="522" r="3"/><circle cx="538" cy="522" r="3"/><circle cx="544" cy="522" r="3"/><circle cx="550" cy="522" r="3"/><circle cx="556" cy="522" r="3"/><circle cx="562" cy="522" r="3"/><circle cx="568" cy="522" r="3"/><circle cx="574" cy="522" r="3"/><circle cx="580" cy="522" r="3"/><circle cx="586" cy="522" r="3"/><circle cx="592" cy="522" r="3"/><circle cx="499" cy="527" r="3"/><circle cx="505" cy="527" r="3"/><circle cx="511" cy="527" r="3"/><circle cx="517" cy="527" r="3"/><circle cx="523" cy="527" r="3"/><circle cx="529" cy="527" r="3"/><circle cx="535" cy="527" r="3"/><circle cx="541" cy="527" r="3"/><circle cx="547" cy="527" r="3"/><circle cx="553" cy="527" r="3"/><circle cx="559" cy="527" r="3"/><circle cx="565" cy="527" r="3"/><circle cx="571" cy="527" r="3"/><circle cx="577" cy="527" r="3"/><circle cx="583" cy="527" r="3"/><circle cx="589" cy="527" r="3"/><circle cx="595" cy="527" r="3"/><circle cx="496" cy="532" r="3"/><circle cx="502" cy="532" r="3"/><circle cx="508" cy="532" r="3"/><circle cx="514" cy="532" r="3"/><circle cx="520" cy="532" r="3"/><circle cx="526" cy="532" r="3"/><circle cx="532" cy="532" r="3"/><circle cx="538" cy="532" r="3"/><circle cx="544" cy="532" r="3"/><circle cx="550" cy="532" r="3"/><circle cx="556" cy="532" r="3"/><circle cx="562" cy="532" r="3"/><circle cx="568" cy="532" r="3"/><circle cx="574" cy="532" r="3"/><circle cx="580" cy="532" r="3"/><circle cx="586" cy="532" r="3"/><circle cx="592" cy="532" r="3"/><circle cx="499" cy="537" r="3"/><circle cx="505" cy="537" r="3"/><circle cx="511" cy="537" r="3"/><circle cx="517" cy="537" r="3"/><circle cx="523" cy="537" r="3"/><circle cx="529" cy="537" r="3"/><circle cx="535" cy="537" r="3"/><circle cx="541" cy="537" r="3"/><circle cx="547" cy="537" r="3"/><circle cx="553" cy="537" r="3"/><circle cx="559" cy="537" r="3"/><circle cx="565" cy="537" r="3"/><circle cx="571" cy="537" r="3"/><circle cx="577" cy="537" r="3"/><circle cx="583" cy="537" r="3"/><circle cx="589" cy="537" r="3"/><circle cx="595" cy="537" r="3"/><circle cx="496" cy="542" r="3"/><circle cx="502" cy="542" r="3"/><circle cx="508" cy="542" r="3"/><circle cx="514" cy="542" r="3"/><circle cx="520" cy="542" r="3"/><circle cx="526" cy="542" r="3"/><circle cx="532" cy="542" r="3"/><circle cx="538" cy="542" r="3"/><circle cx="544" cy="542" r="3"/><circle cx="550" cy="542" r="3"/><circle cx="556" cy="542" r="3"/><circle cx="562" cy="542" r="3"/><circle cx="568" cy="542" r="3"/><circle cx="574" cy="542" r="3"/><circle cx="580" cy="542" r="3"/><circle cx="586" cy="542" r="3"/><circle cx="592" cy="542" r="3"/><circle cx="499" cy="547" r="3"/><circle cx="505" cy="547" r="3"/><circle cx="511" cy="547" r="3"/><circle cx="517" cy="547" r="3"/><circle cx="523" cy="547" r="3"/><circle cx="529" cy="547" r="3"/><circle cx="535" cy="547" r="3"/><circle cx="541" cy="547" r="3"/><circle cx="547" cy="547" r="3"/><circle cx="553" cy="547" r="3"/><circle cx="559" cy="547" r="3"/><circle cx="565" cy="547" r="3"/><circle cx="571" cy="547" r="3"/><circle cx="577" cy="547" r="3"/><circle cx="583" cy="547" r="3"/><circle cx="589" cy="547" r="3"/><circle cx="595" cy="547" r="3"/><circle cx="496" cy="552" r="3"/><circle cx="502" cy="552" r="3"/><circle cx="508" cy="552" r="3"/><circle cx="514" cy="552" r="3"/><circle cx="520" cy="552" r="3"/><circle cx="526" cy="552" r="3"/><circle cx="532" cy="552" r="3"/><circle cx="538" cy="552" r="3"/><circle cx="544" cy="552" r="3"/><circle cx="550" cy="552" r="3"/><circle cx="556" cy="552" r="3"/><circle cx="562" cy="552" r="3"/><circle cx="568" cy="552" r="3"/><circle cx="574" cy="552" r="3"/><circle cx="580" cy="552" r="3"/><circle cx="586" cy="552" r="3"/><circle cx="592" cy="552" r="3"/><circle cx="499" cy="557" r="3"/><circle cx="505" cy="557" r="3"/><circle cx="511" cy="557" r="3"/><circle cx="517" cy="557" r="3"/><circle cx="523" cy="557" r="3"/><circle cx="529" cy="557" r="3"/><circle cx="535" cy="557" r="3"/><circle cx="541" cy="557" r="3"/><circle cx="547" cy="557" r="3"/><circle cx="553" cy="557" r="3"/><circle cx="559" cy="557" r="3"/><circle cx="565" cy="557" r="3"/><circle cx="571" cy="557" r="3"/><circle cx="577" cy="557" r="3"/><circle cx="583" cy="557" r="3"/><circle cx="589" cy="557" r="3"/><circle cx="595" cy="557" r="3"/><circle cx="496" cy="562" r="3"/><circle cx="502" cy="562" r="3"/><circle cx="508" cy="562" r="3"/><circle cx="514" cy="562" r="3"/><circle cx="520" cy="562" r="3"/><circle cx="526" cy="562" r="3"/><circle cx="532" cy="562" r="3"/><circle cx="538" cy="562" r="3"/><circle cx="544" cy="562" r="3"/><circle cx="550" cy="562" r="3"/><circle cx="556" cy="562" r="3"/><circle cx="562" cy="562" r="3"/><circle cx="568" cy="562" r="3"/><circle cx="574" cy="562" r="3"/><circle cx="580" cy="562" r="3"/><circle cx="586" cy="562" r="3"/><circle cx="592" cy="562" r="3"/><circle cx="499" cy="567" r="3"/><circle cx="505" cy="567" r="3"/><circle cx="511" cy="567" r="3"/><circle cx="517" cy="567" r="3"/><circle cx="523" cy="567" r="3"/><circle cx="529" cy="567" r="3"/><circle cx="535" cy="567" r="3"/><circle cx="541" cy="567" r="3"/><circle cx="547" cy="567" r="3"/><circle cx="553" cy="567" r="3"/><circle cx="559" cy="567" r="3"/><circle cx="565" cy="567" r="3"/><circle cx="571" cy="567" r="3"/><circle cx="577" cy="567" r="3"/><circle cx="583" cy="567" r="3"/><circle cx="589" cy="567" r="3"/><circle cx="595" cy="567" r="3"/><circle cx="496" cy="572" r="3"/><circle cx="502" cy="572" r="3"/><circle cx="508" cy="572" r="3"/><circle cx="514" cy="572" r="3"/><circle cx="520" cy="572" r="3"/><circle cx="526" cy="572" r="3"/><circle cx="532" cy="572" r="3"/><circle cx="538" cy="572" r="3"/><circle cx="544" cy="572" r="3"/><circle cx="550" cy="572" r="3"/><circle cx="556" cy="572" r="3"/><circle cx="562" cy="572" r="3"/><circle cx="568" cy="572" r="3"/><circle cx="574" cy="572" r="3"/><circle cx="580" cy="572" r="3"/><circle cx="586" cy="572" r="3"/><circle cx="592" cy="572" r="3"/><circle cx="499" cy="577" r="3"/><circle cx="505" cy="577" r="3"/><circle cx="511" cy="577" r="3"/><circle cx="517" cy="577" r="3"/><circle cx="523" cy="577" r="3"/><circle cx="529" cy="577" r="3"/><circle cx="535" cy="577" r="3"/><circle cx="541" cy="577" r="3"/><circle cx="547" cy="577" r="3"/><circle cx="553" cy="577" r="3"/><circle cx="559" cy="577" r="3"/><circle cx="565" cy="577" r="3"/><circle cx="571" cy="577" r="3"/><circle cx="577" cy="577" r="3"/><circle cx="583" cy="577" r="3"/><circle cx="589" cy="577" r="3"/><circle cx="595" cy="577" r="3"/><circle cx="496" cy="582" r="3"/><circle cx="502" cy="582" r="3"/><circle cx="508" cy="582" r="3"/><circle cx="514" cy="582" r="3"/><circle cx="520" cy="582" r="3"/><circle cx="526" cy="582" r="3"/><circle cx="532" cy="582" r="3"/><circle cx="538" cy="582" r="3"/><circle cx="544" cy="582" r="3"/><circle cx="550" cy="582" r="3"/><circle cx="556" cy="582" r="3"/><circle cx="562" cy="582" r="3"/><circle cx="568" cy="582" r="3"/><circle cx="574" cy="582" r="3"/><circle cx="580" cy="582" r="3"/><circle cx="586" cy="582" r="3"/><circle cx="592" cy="582" r="3"/><circle cx="499" cy="587" r="3"/><circle cx="505" cy="587" r="3"/><circle cx="511" cy="587" r="3"/><circle cx="517" cy="587" r="3"/><circle cx="523" cy="587" r="3"/><circle cx="529" cy="587" r="3"/><circle cx="535" cy="587" r="3"/><circle cx="541" cy="587" r="3"/><circle cx="547" cy="587" r="3"/><circle cx="553" cy="587" r="3"/><circle cx="559" cy="587" r="3"/><circle cx="565" cy="587" r="3"/><circle cx="571" cy="587" r="3"/><circle cx="577" cy="587" r="3"/><circle cx="583" cy="587" r="3"/><circle cx="589" cy="587" r="3"/><circle cx="595" cy="587" r="3"/><circle cx="496" cy="592" r="3"/><circle cx="502" cy="592" r="3"/><circle cx="508" cy="592" r="3"/><circle cx="514" cy="592" r="3"/><circle cx="520" cy="592" r="3"/><circle cx="526" cy="592" r="3"/><circle cx="532" cy="592" r="3"/><circle cx="538" cy="592" r="3"/><circle cx="544" cy="592" r="3"/><circle cx="550" cy="592" r="3"/><circle cx="556" cy="592" r="3"/><circle cx="562" cy="592" r="3"/><circle cx="568" cy="592" r="3"/><circle cx="574" cy="592" r="3"/><circle cx="580" cy="592" r="3"/><circle cx="586" cy="592" r="3"/><circle cx="592" cy="592" r="3"/><circle cx="499" cy="597" r="3"/><circle cx="505" cy="597" r="3"/><circle cx="511" cy="597" r="3"/><circle cx="517" cy="597" r="3"/><circle cx="523" cy="597" r="3"/><circle cx="529" cy="597" r="3"/><circle cx="535" cy="597" r="3"/><circle cx="541" cy="597" r="3"/><circle cx="547" cy="597" r="3"/><circle cx="553" cy="597" r="3"/><circle cx="559" cy="597" r="3"/><circle cx="565" cy="597" r="3"/><circle cx="571" cy="597" r="3"/><circle cx="577" cy="597" r="3"/><circle cx="583" cy="597" r="3"/><circle cx="589" cy="597" r="3"/><circle cx="595" cy="597" r="3"/><circle cx="496" cy="602" r="3"/><circle cx="502" cy="602" r="3"/><circle cx="508" cy="602" r="3"/><circle cx="514" cy="602" r="3"/><circle cx="520" cy="602" r="3"/><circle cx="526" cy="602" r="3"/><circle cx="532" cy="602" r="3"/><circle cx="538" cy="602" r="3"/><circle cx="544" cy="602" r="3"/><circle cx="550" cy="602" r="3"/><circle cx="556" cy="602" r="3"/><circle cx="562" cy="602" r="3"/><circle cx="568" cy="602" r="3"/><circle cx="574" cy="602" r="3"/><circle cx="580" cy="602" r="3"/><circle cx="586" cy="602" r="3"/><circle cx="592" cy="602" r="3"/><circle cx="499" cy="607" r="3"/><circle cx="505" cy="607" r="3"/><circle cx="511" cy="607" r="3"/><circle cx="517" cy="607" r="3"/><circle cx="523" cy="607" r="3"/><circle cx="529" cy="607" r="3"/><circle cx="535" cy="607" r="3"/><circle cx="541" cy="607" r="3"/><circle cx="547" cy="607" r="3"/><circle cx="553" cy="607" r="3"/><circle cx="559" cy="607" r="3"/><circle cx="565" cy="607" r="3"/><circle cx="571" cy="607" r="3"/><circle cx="577" cy="607" r="3"/><circle cx="583" cy="607" r="3"/><circle cx="589" cy="607" r="3"/><circle cx="595" cy="607" r="3"/><circle cx="496" cy="612" r="3"/><circle cx="502" cy="612" r="3"/><circle cx="508" cy="612" r="3"/><circle cx="514" cy="612" r="3"/><circle cx="520" cy="612" r="3"/><circle cx="526" cy="612" r="3"/><circle cx="532" cy="612" r="3"/><circle cx="538" cy="612" r="3"/><circle cx="544" cy="612" r="3"/><circle cx="550" cy="612" r="3"/><circle cx="556" cy="612" r="3"/><circle cx="562" cy="612" r="3"/><circle cx="568" cy="612" r="3"/><circle cx="574" cy="612" r="3"/><circle cx="580" cy="612" r="3"/><circle cx="586" cy="612" r="3"/><circle cx="592" cy="612" r="3"/><circle cx="499" cy="617" r="3"/><circle cx="505" cy="617" r="3"/><circle cx="511" cy="617" r="3"/><circle cx="517" cy="617" r="3"/><circle cx="523" cy="617" r="3"/><circle cx="529" cy="617" r="3"/><circle cx="535" cy="617" r="3"/><circle cx="541" cy="617" r="3"/><circle cx="547" cy="617" r="3"/><circle cx="553" cy="617" r="3"/><circle cx="559" cy="617" r="3"/><circle cx="565" cy="617" r="3"/><circle cx="571" cy="617" r="3"/><circle cx="577" cy="617" r="3"/><circle cx="583" cy="617" r="3"/><circle cx="589" cy="617" r="3"/><circle cx="595" cy="617" r="3"/><circle cx="496" cy="622" r="3"/><circle cx="502" cy="622" r="3"/><circle cx="508" cy="622" r="3"/><circle cx="514" cy="622" r="3"/><circle cx="520" cy="622" r="3"/><circle cx="526" cy="622" r="3"/><circle cx="532" cy="622" r="3"/><circle cx="538" cy="622" r="3"/><circle cx="544" cy="622" r="3"/><circle cx="550" cy="622" r="3"/><circle cx="556" cy="622" r="3"/><circle cx="562" cy="622" r="3"/><circle cx="568" cy="622" r="3"/><circle cx="574" cy="622" r="3"/><circle cx="580" cy="622" r="3"/><circle cx="586" cy="622" r="3"/><circle cx="592" cy="622" r="3"/><circle cx="499" cy="627" r="3"/><circle cx="505" cy="627" r="3"/><circle cx="511" cy="627" r="3"/><circle cx="517" cy="627" r="3"/><circle cx="523" cy="627" r="3"/><circle cx="529" cy="627" r="3"/><circle cx="535" cy="627" r="3"/><circle cx="541" cy="627" r="3"/><circle cx="547" cy="627" r="3"/><circle cx="553" cy="627" r="3"/><circle cx="559" cy="627" r="3"/><circle cx="565" cy="627" r="3"/><circle cx="571" cy="627" r="3"/><circle cx="577" cy="627" r="3"/><circle cx="583" cy="627" r="3"/><circle cx="589" cy="627" r="3"/><circle cx="595" cy="627" r="3"/><circle cx="496" cy="632" r="3"/><circle cx="502" cy="632" r="3"/><circle cx="508" cy="632" r="3"/><circle cx="514" cy="632" r="3"/><circle cx="520" cy="632" r="3"/><circle cx="526" cy="632" r="3"/><circle cx="532" cy="632" r="3"/><circle cx="538" cy="632" r="3"/><circle cx="544" cy="632" r="3"/><circle cx="550" cy="632" r="3"/><circle cx="556" cy="632" r="3"/><circle cx="562" cy="632" r="3"/><circle cx="568" cy="632" r="3"/><circle cx="574" cy="632" r="3"/><circle cx="580" cy="632" r="3"/><circle cx="586" cy="632" r="3"/><circle cx="592" cy="632" r="3"/><circle cx="499" cy="637" r="3"/><circle cx="505" cy="637" r="3"/><circle cx="511" cy="637" r="3"/><circle cx="517" cy="637" r="3"/><circle cx="523" cy="637" r="3"/><circle cx="529" cy="637" r="3"/><circle cx="535" cy="637" r="3"/><circle cx="541" cy="637" r="3"/><circle cx="547" cy="637" r="3"/><circle cx="553" cy="637" r="3"/><circle cx="559" cy="637" r="3"/><circle cx="565" cy="637" r="3"/><circle cx="571" cy="637" r="3"/><circle cx="577" cy="637" r="3"/><circle cx="583" cy="637" r="3"/><circle cx="589" cy="637" r="3"/><circle cx="595" cy="637" r="3"/><circle cx="496" cy="642" r="3"/><circle cx="502" cy="642" r="3"/><circle cx="508" cy="642" r="3"/><circle cx="514" cy="642" r="3"/><circle cx="520" cy="642" r="3"/><circle cx="526" cy="642" r="3"/><circle cx="532" cy="642" r="3"/><circle cx="538" cy="642" r="3"/><circle cx="544" cy="642" r="3"/><circle cx="550" cy="642" r="3"/><circle cx="556" cy="642" r="3"/><circle cx="562" cy="642" r="3"/><circle cx="568" cy="642" r="3"/><circle cx="574" cy="642" r="3"/><circle cx="580" cy="642" r="3"/><circle cx="586" cy="642" r="3"/><circle cx="592" cy="642" r="3"/></g></g>
<text x="570" y="551.5" font-family="Liberation Sans" font-weight="bold" font-size="11" fill="#222">(2)</text>
<path d="M553.5,535.5 L569.5,547 L549.5,547" fill="none" stroke="#222" stroke-width="1"/>
<text x="540" y="479" font-family="Liberation Sans" font-weight="bold" font-size="11" fill="#222">(1)</text>
<path d="M577,483.5 L557,475 L604,478" fill="none" stroke="#222" stroke-width="1"/>
<path d="M563,487 C575,484 585,478 604,477.5 C622,477 640,490 647,505 C652,515 657,530 651,542 C647,549 642,552 639,555 C641,562 644,572 642.6,580.6 L638,585 M633.8,594.7 L626.7,604.4 M614,611 C606,612 603,606 606.5,602 C609,597 615,595.6 624,595.6 C632,596 642,599 645.2,604.4 C647,608 648,612 647.9,614" fill="none" stroke="#333" stroke-width="1.1"/>
<circle cx="579.2" cy="490.1" r="2.5" fill="url(#ball)" stroke="#444" stroke-width="0.6"/>
<circle cx="577.1" cy="492.3" r="2.5" fill="url(#ball)" stroke="#444" stroke-width="0.6"/>
<circle cx="574.0" cy="492.1" r="2.5" fill="url(#ball)" stroke="#444" stroke-width="0.6"/>
<circle cx="572.3" cy="489.5" r="2.5" fill="url(#ball)" stroke="#444" stroke-width="0.6"/>
<circle cx="573.2" cy="486.6" r="2.5" fill="url(#ball)" stroke="#444" stroke-width="0.6"/>
<circle cx="576.1" cy="485.4" r="2.5" fill="url(#ball)" stroke="#444" stroke-width="0.6"/>
<circle cx="578.8" cy="487.0" r="2.5" fill="url(#ball)" stroke="#444" stroke-width="0.6"/>
<circle cx="575.8" cy="489.0" r="2.5" fill="url(#ball)" stroke="#444" stroke-width="0.6"/>
<circle cx="608.5" cy="490.0" r="3.6" fill="url(#ball)" stroke="#444" stroke-width="0.6"/>
<circle cx="605.9" cy="493.1" r="3.6" fill="url(#ball)" stroke="#444" stroke-width="0.6"/>
<circle cx="602.0" cy="493.5" r="3.6" fill="url(#ball)" stroke="#444" stroke-width="0.6"/>
<circle cx="598.9" cy="490.9" r="3.6" fill="url(#ball)" stroke="#444" stroke-width="0.6"/>
<circle cx="598.5" cy="487.0" r="3.6" fill="url(#ball)" stroke="#444" stroke-width="0.6"/>
<circle cx="601.1" cy="483.9" r="3.6" fill="url(#ball)" stroke="#444" stroke-width="0.6"/>
<circle cx="605.0" cy="483.5" r="3.6" fill="url(#ball)" stroke="#444" stroke-width="0.6"/>
<circle cx="608.1" cy="486.1" r="3.6" fill="url(#ball)" stroke="#444" stroke-width="0.6"/>
<circle cx="603.5" cy="488.5" r="3.6" fill="url(#ball)" stroke="#444" stroke-width="0.6"/>
<circle cx="641.5" cy="514.7" r="5.5" fill="url(#ball)" stroke="#444" stroke-width="0.6"/>
<circle cx="637.4" cy="519.6" r="5.5" fill="url(#ball)" stroke="#444" stroke-width="0.6"/>
<circle cx="631.2" cy="520.2" r="5.5" fill="url(#ball)" stroke="#444" stroke-width="0.6"/>
<circle cx="626.3" cy="516.1" r="5.5" fill="url(#ball)" stroke="#444" stroke-width="0.6"/>
<circle cx="625.7" cy="509.9" r="5.5" fill="url(#ball)" stroke="#444" stroke-width="0.6"/>
<circle cx="629.8" cy="505.0" r="5.5" fill="url(#ball)" stroke="#444" stroke-width="0.6"/>
<circle cx="636.0" cy="504.4" r="5.5" fill="url(#ball)" stroke="#444" stroke-width="0.6"/>
<circle cx="640.9" cy="508.5" r="5.5" fill="url(#ball)" stroke="#444" stroke-width="0.6"/>
<circle cx="633.6" cy="512.3" r="5.5" fill="url(#ball)" stroke="#444" stroke-width="0.6"/>
<circle cx="631.1" cy="559.4" r="6.3" fill="url(#ball)" stroke="#444" stroke-width="0.6"/>
<circle cx="626.6" cy="564.9" r="6.3" fill="url(#ball)" stroke="#444" stroke-width="0.6"/>
<circle cx="619.4" cy="565.5" r="6.3" fill="url(#ball)" stroke="#444" stroke-width="0.6"/>
<circle cx="613.9" cy="561.0" r="6.3" fill="url(#ball)" stroke="#444" stroke-width="0.6"/>
<circle cx="613.3" cy="553.8" r="6.3" fill="url(#ball)" stroke="#444" stroke-width="0.6"/>
<circle cx="617.8" cy="548.3" r="6.3" fill="url(#ball)" stroke="#444" stroke-width="0.6"/>
<circle cx="625.0" cy="547.7" r="6.3" fill="url(#ball)" stroke="#444" stroke-width="0.6"/>
<circle cx="630.5" cy="552.2" r="6.3" fill="url(#ball)" stroke="#444" stroke-width="0.6"/>
<circle cx="622.2" cy="556.6" r="6.3" fill="url(#ball)" stroke="#444" stroke-width="0.6"/>
<circle cx="608.7" cy="587.6" r="5.8" fill="url(#ball)" stroke="#555" stroke-width="0.6"/>
<circle cx="635.1" cy="588.5" r="5.8" fill="url(#ball)" stroke="#555" stroke-width="0.6"/>
<circle cx="655.8" cy="593.8" r="5.8" fill="url(#ball)" stroke="#555" stroke-width="0.6"/>
<circle cx="620.1" cy="607" r="5.8" fill="url(#ball)" stroke="#555" stroke-width="0.6"/>
<circle cx="632" cy="613.6" r="5.8" fill="url(#ball)" stroke="#555" stroke-width="0.6"/>
<circle cx="666.8" cy="614.5" r="5.8" fill="url(#ball)" stroke="#555" stroke-width="0.6"/>
<circle cx="605.6" cy="626.4" r="5.8" fill="url(#ball)" stroke="#555" stroke-width="0.6"/>
<circle cx="629.4" cy="631.7" r="5.8" fill="url(#ball)" stroke="#555" stroke-width="0.6"/>
<path d="M608.2,632.6 L621.4,649.3 L628.5,637" fill="none" stroke="#222" stroke-width="1.1"/>
<text x="577.5" y="665.5" font-family="Liberation Sans" font-weight="bold" font-size="11" fill="#111" textLength="72.5">Protein histon</text>
<g><path d="M672,473 C684,493 700,506 720,514" fill="none" stroke="#3e3e3e" stroke-width="6.5"/><path d="M672,473 C684,493 700,506 720,514" fill="none" stroke="#6a6a6a" stroke-width="3.5"/><path d="M738,508 C742,514 743,520 741,526" fill="none" stroke="#3e3e3e" stroke-width="6.5"/><path d="M738,508 C742,514 743,520 741,526" fill="none" stroke="#6a6a6a" stroke-width="3.5"/><path d="M684,536 C690,550 700,556 708,558" fill="none" stroke="#3e3e3e" stroke-width="6.5"/><path d="M684,536 C690,550 700,556 708,558" fill="none" stroke="#6a6a6a" stroke-width="3.5"/><path d="M691,570 C705,580 725,588 741,594" fill="none" stroke="#3e3e3e" stroke-width="6.5"/><path d="M691,570 C705,580 725,588 741,594" fill="none" stroke="#6a6a6a" stroke-width="3.5"/><rect x="676" y="475.2" width="61" height="5.6" rx="2.8" fill="#d2d2d2" stroke="#3c3c3c" stroke-width="0.9"/><rect x="685" y="490.2" width="52" height="5.6" rx="2.8" fill="#d2d2d2" stroke="#3c3c3c" stroke-width="0.9"/><rect x="704" y="502.2" width="27" height="5.6" rx="2.8" fill="#d2d2d2" stroke="#3c3c3c" stroke-width="0.9"/><rect x="697" y="526.2" width="44" height="5.6" rx="2.8" fill="#d2d2d2" stroke="#3c3c3c" stroke-width="0.9"/><rect x="687" y="537.2" width="54" height="5.6" rx="2.8" fill="#d2d2d2" stroke="#3c3c3c" stroke-width="0.9"/><rect x="698" y="548.2" width="40" height="5.6" rx="2.8" fill="#d2d2d2" stroke="#3c3c3c" stroke-width="0.9"/><rect x="694" y="564.2" width="30" height="5.6" rx="2.8" fill="#d2d2d2" stroke="#3c3c3c" stroke-width="0.9"/><rect x="694" y="573.2" width="44" height="5.6" rx="2.8" fill="#d2d2d2" stroke="#3c3c3c" stroke-width="0.9"/><rect x="704" y="583.2" width="36" height="5.6" rx="2.8" fill="#d2d2d2" stroke="#3c3c3c" stroke-width="0.9"/><rect x="716" y="592.2" width="24" height="5.6" rx="2.8" fill="#d2d2d2" stroke="#3c3c3c" stroke-width="0.9"/><path d="M737,472 C741,480 745,492 737,501 C723,513 699,523 684,533 C681,540 684,548 692,553" fill="none" stroke="#404040" stroke-width="10" stroke-linecap="round"/><path d="M737,472 C741,480 745,492 737,501 C723,513 699,523 684,533 C681,540 684,548 692,553" fill="none" stroke="#dcdcdc" stroke-width="7.6" stroke-linecap="round"/><path d="M741,524 C745,532 744,539 737,544 C724,553 706,560 690,566 C687,571 689,576 694,579" fill="none" stroke="#404040" stroke-width="10" stroke-linecap="round"/><path d="M741,524 C745,532 744,539 737,544 C724,553 706,560 690,566 C687,571 689,576 694,579" fill="none" stroke="#dcdcdc" stroke-width="7.6" stroke-linecap="round"/><path d="M740,592 C744,600 733,603 716,604 L694,605" fill="none" stroke="#404040" stroke-width="10" stroke-linecap="round"/><path d="M740,592 C744,600 733,603 716,604 L694,605" fill="none" stroke="#dcdcdc" stroke-width="7.6" stroke-linecap="round"/><path d="M694,607 L731,613 L729,621 C718,624 706,623 699,620 Z" fill="#f2f2f2" stroke="#3a3a3a" stroke-width="1.8"/><line x1="698.0" y1="608" x2="703.0" y2="621" stroke="#444" stroke-width="1.5"/><line x1="703.2" y1="608" x2="708.2" y2="621" stroke="#444" stroke-width="1.5"/><line x1="708.4" y1="608" x2="713.4" y2="621" stroke="#444" stroke-width="1.5"/><line x1="713.6" y1="608" x2="718.6" y2="621" stroke="#444" stroke-width="1.5"/><line x1="718.8" y1="608" x2="723.8" y2="621" stroke="#444" stroke-width="1.5"/><line x1="724.0" y1="608" x2="729.0" y2="621" stroke="#444" stroke-width="1.5"/><path d="M691,622 L706,628 L712,638 C708,641 702,641 699,639 Z" fill="#f2f2f2" stroke="#3a3a3a" stroke-width="1.8"/><line x1="695.0" y1="625" x2="700.0" y2="638" stroke="#444" stroke-width="1.3"/><line x1="699.2" y1="625" x2="704.2" y2="638" stroke="#444" stroke-width="1.3"/><line x1="703.4" y1="625" x2="708.4" y2="638" stroke="#444" stroke-width="1.3"/><path d="M686,633 L696,636 L702,644 C698,647 694,647 692,645 Z" fill="#f2f2f2" stroke="#3a3a3a" stroke-width="1.6"/><path d="M647.9,614 C646,622 647,632 650,642 C655,648 662,650 668,651 C673,653 676,655 679.6,649.3 C682,645 684,640 687.5,636" fill="none" stroke="#3a3a3a" stroke-width="2.4" stroke-dasharray="2,1.4"/></g>
<path d="M735,495.5 L772,511 L738,524" fill="none" stroke="#222" stroke-width="1"/>
<text x="771.8" y="514" font-family="Liberation Sans" font-weight="bold" font-size="11" fill="#111" textLength="24.5">DNA</text></g>
<g id="row1" filter="url(#soft2)"><rect x="122.1" y="841.4" width="179.5" height="133.1" fill="#f9e3d6" stroke="#6f5b4a" stroke-width="2.5"/>
<path d="M138.7,848.0 a4.4,4.4 0 0 1 4.4,4.4 V882.5 L141.5,885.5 L143.1,888.5 V942.6 a4.4,4.4 0 0 1 -8.8,0 V888.5 L135.9,885.5 L134.3,882.5 V852.4 a4.4,4.4 0 0 1 4.4,-4.4Z" fill="#933a4a" stroke="#7d3642" stroke-width="0.7"/>
<path d="M151.0,848.0 a4.4,4.4 0 0 1 4.4,4.4 V882.5 L153.8,885.5 L155.4,888.5 V942.6 a4.4,4.4 0 0 1 -8.8,0 V888.5 L148.2,885.5 L146.6,882.5 V852.4 a4.4,4.4 0 0 1 4.4,-4.4Z" fill="#933a4a" stroke="#7d3642" stroke-width="0.7"/>
<path d="M182.9,848.0 a4.4,4.4 0 0 1 4.4,4.4 V882.5 L185.7,885.5 L187.3,888.5 V942.6 a4.4,4.4 0 0 1 -8.8,0 V888.5 L180.1,885.5 L178.5,882.5 V852.4 a4.4,4.4 0 0 1 4.4,-4.4Z" fill="#933a4a" stroke="#7d3642" stroke-width="0.7"/>
<path d="M195.4,848.0 a4.4,4.4 0 0 1 4.4,4.4 V882.5 L198.2,885.5 L199.8,888.5 V942.6 a4.4,4.4 0 0 1 -8.8,0 V888.5 L192.6,885.5 L191.0,882.5 V852.4 a4.4,4.4 0 0 1 4.4,-4.4Z" fill="#933a4a" stroke="#7d3642" stroke-width="0.7"/>
<path d="M226.4,858.5 a4.4,4.4 0 0 1 4.4,4.4 V882.5 L229.2,885.5 L230.8,888.5 V924.9 a4.4,4.4 0 0 1 -8.8,0 V888.5 L223.6,885.5 L222.0,882.5 V862.9 a4.4,4.4 0 0 1 4.4,-4.4Z" fill="#933a4a" stroke="#7d3642" stroke-width="0.7"/>
<path d="M239.4,858.5 a4.4,4.4 0 0 1 4.4,4.4 V882.5 L242.2,885.5 L243.8,888.5 V924.9 a4.4,4.4 0 0 1 -8.8,0 V888.5 L236.6,885.5 L235.0,882.5 V862.9 a4.4,4.4 0 0 1 4.4,-4.4Z" fill="#933a4a" stroke="#7d3642" stroke-width="0.7"/>
<path d="M270.9,863.3 a4.4,4.4 0 0 1 4.4,4.4 V882.5 L273.7,885.5 L275.3,888.5 V917.4 a4.4,4.4 0 0 1 -8.8,0 V888.5 L268.1,885.5 L266.5,882.5 V867.7 a4.4,4.4 0 0 1 4.4,-4.4Z" fill="#933a4a" stroke="#7d3642" stroke-width="0.7"/>
<path d="M282.9,863.3 a4.4,4.4 0 0 1 4.4,4.4 V882.5 L285.7,885.5 L287.3,888.5 V917.4 a4.4,4.4 0 0 1 -8.8,0 V888.5 L280.1,885.5 L278.5,882.5 V867.7 a4.4,4.4 0 0 1 4.4,-4.4Z" fill="#933a4a" stroke="#7d3642" stroke-width="0.7"/>
<text x="0" y="0" font-size="14.5" font-weight="bold" fill="#57514c" text-anchor="middle" transform="translate(145.2,968) scale(0.6,1)">1</text>
<text x="0" y="0" font-size="14.5" font-weight="bold" fill="#57514c" text-anchor="middle" transform="translate(187.2,968) scale(0.6,1)">2</text>
<text x="0" y="0" font-size="14.5" font-weight="bold" fill="#57514c" text-anchor="middle" transform="translate(232.5,968) scale(0.6,1)">3</text>
<text x="0" y="0" font-size="14.5" font-weight="bold" fill="#57514c" text-anchor="middle" transform="translate(277.8,968) scale(0.6,1)">4</text>
<rect x="308.8" y="841.4" width="179.8" height="132.1" fill="#f9e3d6" stroke="#6f5b4a" stroke-width="2.5"/>
<path d="M321.2,848.0 a4.4,4.4 0 0 1 4.4,4.4 V882.5 L324.0,885.5 L325.6,888.5 V942.6 a4.4,4.4 0 0 1 -8.8,0 V888.5 L318.4,885.5 L316.8,882.5 V852.4 a4.4,4.4 0 0 1 4.4,-4.4Z" fill="#933a4a" stroke="#7d3642" stroke-width="0.7"/>
<path d="M333.2,848.0 a4.4,4.4 0 0 1 4.4,4.4 V882.5 L336.0,885.5 L337.6,888.5 V942.6 a4.4,4.4 0 0 1 -8.8,0 V888.5 L330.4,885.5 L328.8,882.5 V852.4 a4.4,4.4 0 0 1 4.4,-4.4Z" fill="#933a4a" stroke="#7d3642" stroke-width="0.7"/>
<path d="M345.2,848.0 a4.4,4.4 0 0 1 4.4,4.4 V882.5 L348.0,885.5 L349.6,888.5 V942.6 a4.4,4.4 0 0 1 -8.8,0 V888.5 L342.4,885.5 L340.8,882.5 V852.4 a4.4,4.4 0 0 1 4.4,-4.4Z" fill="#933a4a" stroke="#7d3642" stroke-width="0.7"/>
<path d="M370.1,848.0 a4.4,4.4 0 0 1 4.4,4.4 V882.5 L372.9,885.5 L374.5,888.5 V942.6 a4.4,4.4 0 0 1 -8.8,0 V888.5 L367.3,885.5 L365.7,882.5 V852.4 a4.4,4.4 0 0 1 4.4,-4.4Z" fill="#933a4a" stroke="#7d3642" stroke-width="0.7"/>
<path d="M382.6,848.0 a4.4,4.4 0 0 1 4.4,4.4 V882.5 L385.4,885.5 L387.0,888.5 V942.6 a4.4,4.4 0 0 1 -8.8,0 V888.5 L379.8,885.5 L378.2,882.5 V852.4 a4.4,4.4 0 0 1 4.4,-4.4Z" fill="#933a4a" stroke="#7d3642" stroke-width="0.7"/>
<path d="M414.4,858.5 a4.4,4.4 0 0 1 4.4,4.4 V882.5 L417.2,885.5 L418.8,888.5 V924.9 a4.4,4.4 0 0 1 -8.8,0 V888.5 L411.6,885.5 L410.0,882.5 V862.9 a4.4,4.4 0 0 1 4.4,-4.4Z" fill="#933a4a" stroke="#7d3642" stroke-width="0.7"/>
<path d="M426.9,858.5 a4.4,4.4 0 0 1 4.4,4.4 V882.5 L429.7,885.5 L431.3,888.5 V924.9 a4.4,4.4 0 0 1 -8.8,0 V888.5 L424.1,885.5 L422.5,882.5 V862.9 a4.4,4.4 0 0 1 4.4,-4.4Z" fill="#933a4a" stroke="#7d3642" stroke-width="0.7"/>
<path d="M458.7,863.3 a4.4,4.4 0 0 1 4.4,4.4 V882.5 L461.5,885.5 L463.1,888.5 V917.4 a4.4,4.4 0 0 1 -8.8,0 V888.5 L455.9,885.5 L454.3,882.5 V867.7 a4.4,4.4 0 0 1 4.4,-4.4Z" fill="#933a4a" stroke="#7d3642" stroke-width="0.7"/>
<path d="M470.7,863.3 a4.4,4.4 0 0 1 4.4,4.4 V882.5 L473.5,885.5 L475.1,888.5 V917.4 a4.4,4.4 0 0 1 -8.8,0 V888.5 L467.9,885.5 L466.3,882.5 V867.7 a4.4,4.4 0 0 1 4.4,-4.4Z" fill="#933a4a" stroke="#7d3642" stroke-width="0.7"/>
<text x="0" y="0" font-size="14.5" font-weight="bold" fill="#57514c" text-anchor="middle" transform="translate(332.5,967) scale(0.6,1)">1</text>
<text x="0" y="0" font-size="14.5" font-weight="bold" fill="#57514c" text-anchor="middle" transform="translate(374.0,967) scale(0.6,1)">2</text>
<text x="0" y="0" font-size="14.5" font-weight="bold" fill="#57514c" text-anchor="middle" transform="translate(419.8,967) scale(0.6,1)">3</text>
<text x="0" y="0" font-size="14.5" font-weight="bold" fill="#57514c" text-anchor="middle" transform="translate(464.4,967) scale(0.6,1)">4</text>
<rect x="502.7" y="841.5" width="190.7" height="129.8" fill="#f9e3d6" stroke="#6f5b4a" stroke-width="2.5"/>
<path d="M521.2,848.0 a4.4,4.4 0 0 1 4.4,4.4 V882.5 L524.0,885.5 L525.6,888.5 V942.6 a4.4,4.4 0 0 1 -8.8,0 V888.5 L518.4,885.5 L516.8,882.5 V852.4 a4.4,4.4 0 0 1 4.4,-4.4Z" fill="#933a4a" stroke="#7d3642" stroke-width="0.7"/>
<path d="M533.7,848.0 a4.4,4.4 0 0 1 4.4,4.4 V882.5 L536.5,885.5 L538.1,888.5 V942.6 a4.4,4.4 0 0 1 -8.8,0 V888.5 L530.9,885.5 L529.3,882.5 V852.4 a4.4,4.4 0 0 1 4.4,-4.4Z" fill="#933a4a" stroke="#7d3642" stroke-width="0.7"/>
<path d="M572.4,848.0 a4.4,4.4 0 0 1 4.4,4.4 V882.5 L575.2,885.5 L576.8,888.5 V942.6 a4.4,4.4 0 0 1 -8.8,0 V888.5 L569.6,885.5 L568.0,882.5 V852.4 a4.4,4.4 0 0 1 4.4,-4.4Z" fill="#933a4a" stroke="#7d3642" stroke-width="0.7"/>
<path d="M614.4,858.5 a4.4,4.4 0 0 1 4.4,4.4 V882.5 L617.2,885.5 L618.8,888.5 V924.9 a4.4,4.4 0 0 1 -8.8,0 V888.5 L611.6,885.5 L610.0,882.5 V862.9 a4.4,4.4 0 0 1 4.4,-4.4Z" fill="#933a4a" stroke="#7d3642" stroke-width="0.7"/>
<path d="M626.9,858.5 a4.4,4.4 0 0 1 4.4,4.4 V882.5 L629.7,885.5 L631.3,888.5 V924.9 a4.4,4.4 0 0 1 -8.8,0 V888.5 L624.1,885.5 L622.5,882.5 V862.9 a4.4,4.4 0 0 1 4.4,-4.4Z" fill="#933a4a" stroke="#7d3642" stroke-width="0.7"/>
<path d="M661.1,863.3 a4.4,4.4 0 0 1 4.4,4.4 V882.5 L663.9,885.5 L665.5,888.5 V917.4 a4.4,4.4 0 0 1 -8.8,0 V888.5 L658.3,885.5 L656.7,882.5 V867.7 a4.4,4.4 0 0 1 4.4,-4.4Z" fill="#933a4a" stroke="#7d3642" stroke-width="0.7"/>
<path d="M674.0,863.3 a4.4,4.4 0 0 1 4.4,4.4 V882.5 L676.8,885.5 L678.4,888.5 V917.4 a4.4,4.4 0 0 1 -8.8,0 V888.5 L671.2,885.5 L669.6,882.5 V867.7 a4.4,4.4 0 0 1 4.4,-4.4Z" fill="#933a4a" stroke="#7d3642" stroke-width="0.7"/>
<text x="0" y="0" font-size="14.5" font-weight="bold" fill="#57514c" text-anchor="middle" transform="translate(527.8,965.3) scale(0.6,1)">1</text>
<text x="0" y="0" font-size="14.5" font-weight="bold" fill="#57514c" text-anchor="middle" transform="translate(572.1,965.3) scale(0.6,1)">2</text>
<text x="0" y="0" font-size="14.5" font-weight="bold" fill="#57514c" text-anchor="middle" transform="translate(620.0,965.3) scale(0.6,1)">3</text>
<text x="0" y="0" font-size="14.5" font-weight="bold" fill="#57514c" text-anchor="middle" transform="translate(667.2,965.3) scale(0.6,1)">4</text>
<rect x="700.6" y="841.4" width="191.0" height="130.6" fill="#f9e3d6" stroke="#6f5b4a" stroke-width="2.5"/>
<path d="M718.9,848.0 a4.4,4.4 0 0 1 4.4,4.4 V882.5 L721.7,885.5 L723.3,888.5 V942.6 a4.4,4.4 0 0 1 -8.8,0 V888.5 L716.1,885.5 L714.5,882.5 V852.4 a4.4,4.4 0 0 1 4.4,-4.4Z" fill="#933a4a" stroke="#7d3642" stroke-width="0.7"/>
<path d="M731.9,848.0 a4.4,4.4 0 0 1 4.4,4.4 V882.5 L734.7,885.5 L736.3,888.5 V942.6 a4.4,4.4 0 0 1 -8.8,0 V888.5 L729.1,885.5 L727.5,882.5 V852.4 a4.4,4.4 0 0 1 4.4,-4.4Z" fill="#933a4a" stroke="#7d3642" stroke-width="0.7"/>
<path d="M765.4,848.0 a4.4,4.4 0 0 1 4.4,4.4 V882.5 L768.2,885.5 L769.8,888.5 V942.6 a4.4,4.4 0 0 1 -8.8,0 V888.5 L762.6,885.5 L761.0,882.5 V852.4 a4.4,4.4 0 0 1 4.4,-4.4Z" fill="#933a4a" stroke="#7d3642" stroke-width="0.7"/>
<path d="M778.4,848.0 a4.4,4.4 0 0 1 4.4,4.4 V882.5 L781.2,885.5 L782.8,888.5 V942.6 a4.4,4.4 0 0 1 -8.8,0 V888.5 L775.6,885.5 L774.0,882.5 V852.4 a4.4,4.4 0 0 1 4.4,-4.4Z" fill="#933a4a" stroke="#7d3642" stroke-width="0.7"/>
<path d="M812.2,858.5 a4.4,4.4 0 0 1 4.4,4.4 V882.5 L815.0,885.5 L816.6,888.5 V924.9 a4.4,4.4 0 0 1 -8.8,0 V888.5 L809.4,885.5 L807.8,882.5 V862.9 a4.4,4.4 0 0 1 4.4,-4.4Z" fill="#933a4a" stroke="#7d3642" stroke-width="0.7"/>
<path d="M825.4,858.5 a4.4,4.4 0 0 1 4.4,4.4 V882.5 L828.2,885.5 L829.8,888.5 V924.9 a4.4,4.4 0 0 1 -8.8,0 V888.5 L822.6,885.5 L821.0,882.5 V862.9 a4.4,4.4 0 0 1 4.4,-4.4Z" fill="#933a4a" stroke="#7d3642" stroke-width="0.7"/>
<path d="M844.8,863.3 a4.4,4.4 0 0 1 4.4,4.4 V882.5 L847.6,885.5 L849.2,888.5 V917.4 a4.4,4.4 0 0 1 -8.8,0 V888.5 L842.0,885.5 L840.4,882.5 V867.7 a4.4,4.4 0 0 1 4.4,-4.4Z" fill="#933a4a" stroke="#7d3642" stroke-width="0.7"/>
<path d="M856.8,863.3 a4.4,4.4 0 0 1 4.4,4.4 V882.5 L859.6,885.5 L861.2,888.5 V917.4 a4.4,4.4 0 0 1 -8.8,0 V888.5 L854.0,885.5 L852.4,882.5 V867.7 a4.4,4.4 0 0 1 4.4,-4.4Z" fill="#933a4a" stroke="#7d3642" stroke-width="0.7"/>
<path d="M869.7,863.3 a4.4,4.4 0 0 1 4.4,4.4 V882.5 L872.5,885.5 L874.1,888.5 V917.4 a4.4,4.4 0 0 1 -8.8,0 V888.5 L866.9,885.5 L865.3,882.5 V867.7 a4.4,4.4 0 0 1 4.4,-4.4Z" fill="#933a4a" stroke="#7d3642" stroke-width="0.7"/>
<path d="M882.7,863.3 a4.4,4.4 0 0 1 4.4,4.4 V882.5 L885.5,885.5 L887.1,888.5 V917.4 a4.4,4.4 0 0 1 -8.8,0 V888.5 L879.9,885.5 L878.3,882.5 V867.7 a4.4,4.4 0 0 1 4.4,-4.4Z" fill="#933a4a" stroke="#7d3642" stroke-width="0.7"/>
<text x="0" y="0" font-size="14.5" font-weight="bold" fill="#57514c" text-anchor="middle" transform="translate(726.0,965.8) scale(0.6,1)">1</text>
<text x="0" y="0" font-size="14.5" font-weight="bold" fill="#57514c" text-anchor="middle" transform="translate(770.3,965.8) scale(0.6,1)">2</text>
<text x="0" y="0" font-size="14.5" font-weight="bold" fill="#57514c" text-anchor="middle" transform="translate(818.3,965.8) scale(0.6,1)">3</text>
<text x="0" y="0" font-size="14.5" font-weight="bold" fill="#57514c" text-anchor="middle" transform="translate(863.0,965.8) scale(0.6,1)">4</text>
<rect x="899.1" y="841.4" width="190.7" height="130.5" fill="#f9e3d6" stroke="#6f5b4a" stroke-width="2.5"/>
<path d="M917.3,848.0 a4.4,4.4 0 0 1 4.4,4.4 V882.5 L920.1,885.5 L921.7,888.5 V942.6 a4.4,4.4 0 0 1 -8.8,0 V888.5 L914.5,885.5 L912.9,882.5 V852.4 a4.4,4.4 0 0 1 4.4,-4.4Z" fill="#933a4a" stroke="#7d3642" stroke-width="0.7"/>
<path d="M929.6,848.0 a4.4,4.4 0 0 1 4.4,4.4 V882.5 L932.4,885.5 L934.0,888.5 V942.6 a4.4,4.4 0 0 1 -8.8,0 V888.5 L926.8,885.5 L925.2,882.5 V852.4 a4.4,4.4 0 0 1 4.4,-4.4Z" fill="#933a4a" stroke="#7d3642" stroke-width="0.7"/>
<path d="M963.8,848.0 a4.4,4.4 0 0 1 4.4,4.4 V882.5 L966.6,885.5 L968.2,888.5 V942.6 a4.4,4.4 0 0 1 -8.8,0 V888.5 L961.0,885.5 L959.4,882.5 V852.4 a4.4,4.4 0 0 1 4.4,-4.4Z" fill="#933a4a" stroke="#7d3642" stroke-width="0.7"/>
<path d="M976.7,848.0 a4.4,4.4 0 0 1 4.4,4.4 V882.5 L979.5,885.5 L981.1,888.5 V942.6 a4.4,4.4 0 0 1 -8.8,0 V888.5 L973.9,885.5 L972.3,882.5 V852.4 a4.4,4.4 0 0 1 4.4,-4.4Z" fill="#933a4a" stroke="#7d3642" stroke-width="0.7"/>
<path d="M1057.4,863.3 a4.4,4.4 0 0 1 4.4,4.4 V882.5 L1060.2,885.5 L1061.8,888.5 V917.4 a4.4,4.4 0 0 1 -8.8,0 V888.5 L1054.6,885.5 L1053.0,882.5 V867.7 a4.4,4.4 0 0 1 4.4,-4.4Z" fill="#933a4a" stroke="#7d3642" stroke-width="0.7"/>
<path d="M1070.4,863.3 a4.4,4.4 0 0 1 4.4,4.4 V882.5 L1073.2,885.5 L1074.8,888.5 V917.4 a4.4,4.4 0 0 1 -8.8,0 V888.5 L1067.6,885.5 L1066.0,882.5 V867.7 a4.4,4.4 0 0 1 4.4,-4.4Z" fill="#933a4a" stroke="#7d3642" stroke-width="0.7"/>
<text x="0" y="0" font-size="14.5" font-weight="bold" fill="#57514c" text-anchor="middle" transform="translate(924.3,965.8) scale(0.6,1)">1</text>
<text x="0" y="0" font-size="14.5" font-weight="bold" fill="#57514c" text-anchor="middle" transform="translate(969.0,965.8) scale(0.6,1)">2</text>
<text x="0" y="0" font-size="14.5" font-weight="bold" fill="#57514c" text-anchor="middle" transform="translate(1064.6,965.8) scale(0.6,1)">4</text>
<polygon points="270,842 289.4,836 497.5,836 497.5,921 290,921" fill="#d4d0cf" style="mix-blend-mode:multiply"/>
<clipPath id="wmclip"><polygon points="270,842 289.4,836 497.5,836 497.5,921 290,921"/></clipPath>
<g clip-path="url(#wmclip)"><text x="0" y="0" font-family="Liberation Serif" font-style="italic" font-size="74" fill="#ffffff" fill-opacity="0.55" transform="translate(283,902) skewX(-10) scale(0.44,1)">Chân trời sáng t</text></g>
<text x="140" y="1002.8" font-size="19.5" fill="#111" textLength="128" lengthAdjust="spacing">Tế bào 2n = 8</text>
<path d="M138.0,1004.8 L139.8,1006.6 L141.6,1004.8 L143.4,1006.6 L145.2,1004.8 L147.0,1006.6 L148.8,1004.8 L150.6,1006.6 L152.4,1004.8 L154.2,1006.6 L156.0,1004.8 L157.8,1006.6 L159.6,1004.8 M165.0,1004.8 L166.8,1006.6 L168.6,1004.8 L170.4,1006.6 L172.2,1004.8 L174.0,1006.6 L175.8,1004.8 L177.6,1006.6 L179.4,1004.8 L181.2,1006.6 L183.0,1004.8 L184.8,1006.6 L186.6,1004.8 L188.4,1006.6 L190.2,1004.8 L192.0,1006.6 L193.8,1004.8 L195.6,1006.6 L197.4,1004.8 L199.2,1006.6 L201.0,1004.8 L202.8,1006.6" stroke="#e0302a" stroke-width="0.9" fill="none"/>
<text x="385.0" y="1002.8" font-size="19.5" fill="#111" textLength="27" lengthAdjust="spacing">(1)</text>
<text x="586.8" y="1002.8" font-size="19.5" fill="#111" textLength="27" lengthAdjust="spacing">(2)</text>
<text x="791.2" y="1002.8" font-size="19.5" fill="#111" textLength="27" lengthAdjust="spacing">(3)</text>
<text x="981.4" y="1002.8" font-size="19.5" fill="#111" textLength="27" lengthAdjust="spacing">(4)</text></g>
<use href="#row1" transform="translate(0,232.8)"/>
<use href="#row1" transform="translate(0,493.8)"/>
<rect x="0" y="1684" width="1077.5" height="1" fill="#000"/>
</svg>
</body></html>
